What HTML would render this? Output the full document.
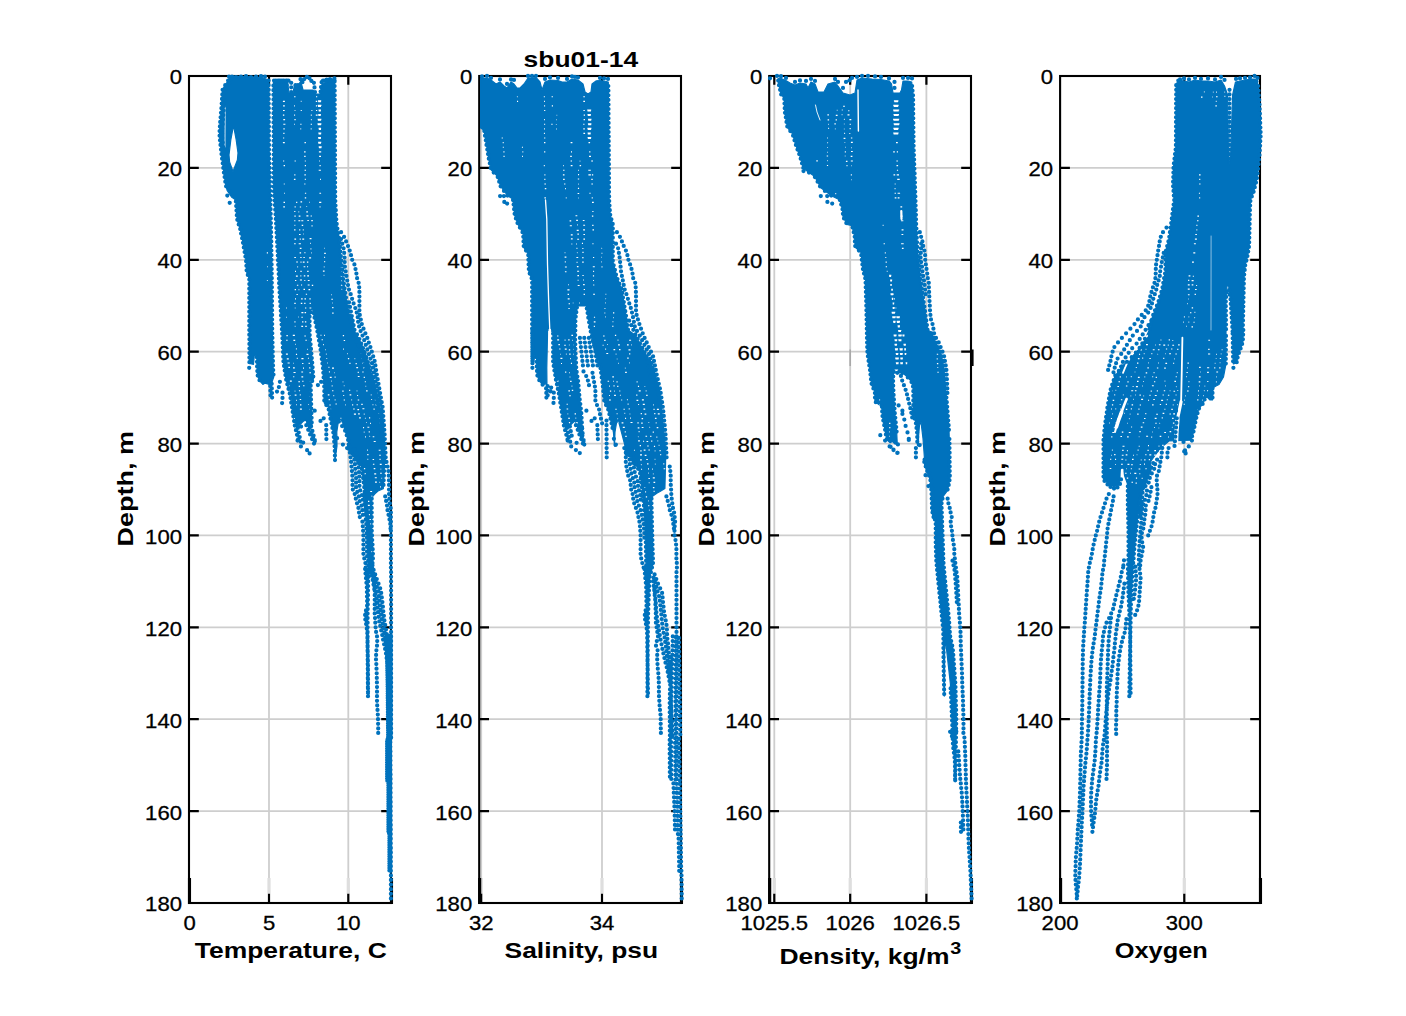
<!DOCTYPE html>
<html><head><meta charset="utf-8"><title>sbu01-14</title>
<style>
html,body{margin:0;padding:0;background:#fff}
svg{display:block}
text{font-family:"Liberation Sans",sans-serif;fill:#000}
.t{font-size:20.8px;stroke:#000;stroke-width:.3px}
.b{font-size:22px;font-weight:bold}
.d{fill:none;stroke:#0072bd;stroke-width:4.25;stroke-linecap:round}
.w{fill:none;stroke:#fff;stroke-width:1.3;stroke-linecap:round}
.wd{fill:none;stroke:#fff;stroke-width:1.15}
.f{fill:#0072bd;stroke:#0072bd;stroke-width:1.2;stroke-linejoin:round}
</style></head>
<body>

<svg width="1406" height="1016" viewBox="0 0 1406 1016">
<rect width="1406" height="1016" fill="#fff"/>
<!-- panel 1 -->
<path d="M269.0 76.0V903.0" stroke="#cecece" stroke-width="1.8"/>
<path d="M269.0 878V894" stroke="#dedede" stroke-width="3.2"/>
<path d="M348.3 76.0V903.0" stroke="#cecece" stroke-width="1.8"/>
<path d="M348.3 878V894" stroke="#dedede" stroke-width="3.2"/>
<path d="M189.0 167.9H391.0" stroke="#cecece" stroke-width="1.8"/>
<path d="M189.0 259.8H391.0" stroke="#cecece" stroke-width="1.8"/>
<path d="M189.0 351.7H391.0" stroke="#cecece" stroke-width="1.8"/>
<path d="M189.0 443.6H391.0" stroke="#cecece" stroke-width="1.8"/>
<path d="M189.0 535.4H391.0" stroke="#cecece" stroke-width="1.8"/>
<path d="M189.0 627.3H391.0" stroke="#cecece" stroke-width="1.8"/>
<path d="M189.0 719.2H391.0" stroke="#cecece" stroke-width="1.8"/>
<path d="M189.0 811.1H391.0" stroke="#cecece" stroke-width="1.8"/>
<path d="M189.0 167.9h9.8M391.0 167.9h-9.8M189.0 259.8h9.8M391.0 259.8h-9.8M189.0 351.7h9.8M391.0 351.7h-9.8M189.0 443.6h9.8M391.0 443.6h-9.8M189.0 535.4h9.8M391.0 535.4h-9.8M189.0 627.3h9.8M391.0 627.3h-9.8M189.0 719.2h9.8M391.0 719.2h-9.8M189.0 811.1h9.8M391.0 811.1h-9.8M269.0 903.0v-9.2M269.0 76.0v8.7M348.3 903.0v-9.2M348.3 76.0v8.7" stroke="#000" stroke-width="2.2" fill="none"/>
<rect x="189.0" y="76.0" width="202.0" height="827.0" fill="none" stroke="#000" stroke-width="2.1"/>
<path d="M189.5 878V904.0M391.5 878V904.0" stroke="#000" stroke-width="3.1"/>
<path class="f" fill-rule="evenodd" d="M231.1 76.1L227.5 81.5L222.6 89.2L221.4 108.4L219.6 130.2L219.6 136.6L221.4 153.2L223.9 172.4L225.8 185.2L227.1 190.3L231.5 197.0L235.8 200.0L237.1 219.2L240.3 229.4L242.9 242.2L246.1 260.2L246.7 271.7L249.3 279.4L249.3 329.9L249.4 342.8L249.4 363.5L253.5 364.3L254.3 355.6L256.7 355.0L257.4 374.8L259.9 381.2L262.9 384.4L265.1 383.1L269.3 384.4L271.0 385.1L273.7 377.0L273.1 368.0L272.2 330.0L271.8 277.0L271.2 238.0L270.4 200.0L269.0 150.0L268.6 80.0L262.0 77.5L245.0 76.5ZM233.5 125.5L236.2 140.0L238.0 153.0L237.4 160.0L233.0 171.5L229.6 162.0L229.0 155.0L230.8 140.0Z"/>
<path class="f" fill-rule="evenodd" d="M273.4 82.0L273.8 190.0L275.6 215.0L277.6 251.0L279.4 290.0L282.0 330.0L283.4 362.0L285.9 378.6L289.8 394.0L292.3 409.4L294.9 426.0L297.5 427.0L300.0 424.5L303.0 421.5L305.5 420.0L308.0 424.0L310.0 429.0L311.8 426.0L311.1 401.7L310.7 384.0L313.5 378.6L311.6 355.6L309.6 334.0L309.6 316.0L311.0 309.0L312.8 310.0L317.2 330.0L320.5 349.2L323.0 368.4L324.3 387.6L324.3 403.0L328.2 406.8L330.7 419.6L333.3 432.4L334.6 445.2L335.0 460.0L337.0 446.0L336.8 432.0L338.5 421.0L341.0 419.0L344.9 430.0L347.9 438.8L349.9 453.0L355.0 458.0L361.4 465.6L364.0 484.8L365.3 504.0L366.6 529.6L367.9 555.2L368.6 570.0L365.1 568.9L366.8 586.6L367.2 609.0L365.1 611.4L365.1 618.5L367.2 630.9L368.0 666.3L368.0 696.0L368.0 696.0L367.6 648.6L367.6 613.2L368.3 577.7L372.8 562.0L373.0 555.2L371.7 529.6L371.7 497.6L374.9 493.8L378.0 491.0L383.3 488.6L384.5 462.0L384.5 445.0L383.0 440.0L381.3 432.4L378.1 406.8L373.6 387.6L369.1 368.4L362.8 349.2L352.2 330.0L346.7 302.4L342.9 276.8L339.0 238.4L336.5 223.0L335.2 200.0L334.6 80.5L334.4 80.5L326.7 81.8L322.0 84.0L320.0 94.0L315.5 94.0L313.0 90.0L303.0 90.0L302.0 86.0L300.5 81.5L299.0 84.0L294.5 84.5L293.0 93.0L289.0 93.0L287.6 82.0Z"/>
<path class="f" fill-rule="evenodd" d="M386.2 634.4L386.9 652.1L387.6 684.0L388.1 737.2L387.1 740.6L387.1 780.5L388.4 783.2L388.4 831.9L389.4 834.5L389.4 871.7L391.6 871.7L391.4 740.6L391.9 737.2L391.9 634.4Z"/>
<path d="M225.2 106.0L225.0 147.0" fill="none" stroke="#fff" stroke-width="0.8" stroke-linecap="round"/>
<path class="wd" d="M266.8 252.9h1.2M267.1 266.7h0.7M266.9 280.5h0.8M282.9 101.3h2.0M283.1 105.9h1.7M283.0 110.5h1.7M282.9 115.1h1.4M283.3 119.6h1.8M283.3 124.2h2.1M283.4 128.8h1.3M283.3 133.4h1.2M283.1 138.0h1.1M282.9 142.6h1.9M283.1 161.0h1.1M283.6 165.6h1.4M283.8 184.0h0.9M284.2 193.2h0.8M283.5 202.3h1.5M283.3 206.9h1.6M294.1 96.7h1.4M294.1 105.9h0.8M294.6 110.5h0.8M294.1 115.1h1.0M294.4 119.6h1.3M294.2 124.2h0.8M294.6 161.0h1.2M294.3 174.8h1.1M293.9 179.4h1.6M294.6 206.9h1.1M294.2 211.5h1.2M294.4 216.1h1.3M294.2 220.7h1.2M294.5 225.3h0.8M294.1 229.9h1.4M294.4 239.1h1.7M294.1 243.7h1.6M294.3 257.5h1.6M295.0 271.3h1.0M295.0 280.5h1.3M294.7 289.6h1.3M295.0 298.8h1.0M294.3 303.4h1.4M294.8 308.0h0.7M294.4 321.8h1.1M294.8 326.4h0.6M304.5 142.6h1.4M304.1 151.8h1.5M304.2 156.4h1.4M304.8 161.0h1.0M304.8 165.6h1.2M304.6 170.2h1.4M304.4 174.8h1.4M304.8 179.4h1.0M304.3 184.0h1.1M304.9 193.2h1.3M304.8 197.8h1.4M300.8 101.3h0.7M300.7 110.5h1.1M300.3 124.2h1.2M300.4 128.8h0.8M318.0 100.8h3.2M318.2 101.7h2.7M317.8 105.4h3.6M318.0 106.3h3.0M318.5 110.0h2.5M318.7 110.9h2.1M318.2 114.6h2.7M318.4 115.5h2.3M317.6 119.2h3.8M317.9 120.1h3.2M317.5 123.8h3.9M317.8 124.7h3.3M318.6 128.4h2.5M318.8 129.3h2.2M318.3 133.0h3.0M318.6 133.9h2.5M318.1 137.6h2.9M318.4 138.5h2.5M318.1 142.2h3.2M318.3 143.1h2.7M318.7 146.8h3.0M318.9 147.7h2.5M318.9 151.8h2.3M319.1 156.4h1.9M319.2 161.0h0.8M319.5 165.6h1.2M318.7 170.2h2.2M320.0 179.4h0.9M319.4 193.2h1.7M319.1 202.3h2.2M319.6 206.9h0.9M316.0 96.7h1.2M315.8 101.3h1.4M315.9 105.9h1.2M316.0 110.5h1.2M315.8 115.1h1.8M311.4 110.5h1.0M310.8 115.1h1.0M310.9 119.6h0.8M310.7 124.2h1.3M310.7 128.8h0.9M271.3 105.9h1.9M271.2 110.5h1.9M271.5 115.1h1.2M271.8 119.6h1.1M271.6 124.2h1.4M270.9 128.8h1.9M271.1 133.4h1.6M271.5 138.0h1.1M271.1 142.6h1.1M271.5 147.2h1.3M298.7 216.1h1.7M298.4 220.7h1.9M299.2 229.9h1.1M299.0 234.5h1.6M299.7 239.1h1.1M298.7 243.7h2.2M299.8 248.3h1.7M299.6 252.9h1.5M300.3 257.5h1.3M300.5 262.1h1.0M300.4 271.3h1.3M300.4 275.9h0.9M301.0 285.0h1.1M301.1 298.8h1.6M300.8 303.4h1.5M301.4 312.6h2.0M301.4 317.2h1.4M302.1 321.8h1.3M301.3 326.4h1.8M301.3 220.7h2.0M301.7 225.3h1.5M302.8 229.9h0.9M302.3 239.1h1.9M303.4 257.5h1.4M302.8 262.1h1.8M303.6 266.7h1.7M303.8 275.9h1.5M304.3 280.5h1.0M304.5 298.8h1.5M304.2 303.4h1.3M305.0 308.0h1.3M304.6 312.6h1.5M304.9 321.8h1.4M305.3 326.4h1.4M306.9 262.1h1.4M307.0 266.7h1.1M307.2 271.3h1.4M307.2 275.9h1.8M307.8 280.5h1.8M307.7 285.0h1.9M308.5 289.6h1.7M309.4 298.8h1.3M309.6 303.4h1.2M309.5 308.0h1.8M286.1 308.0h0.8M286.2 317.2h0.7M286.4 335.6h1.4M286.2 340.2h1.4M306.5 206.5h0.6M306.3 211.9h1.6M306.4 215.8h2.0M307.4 220.5h1.4M296.5 294.5h1.3M305.8 294.2h1.3M309.1 257.9h2.0M311.7 321.4h0.8M311.1 326.5h2.0M304.3 252.7h1.2M298.5 289.7h0.9M296.9 285.2h1.4M298.5 211.9h0.7M309.6 238.6h1.9M310.3 243.3h0.7M310.5 248.8h0.9M311.3 252.8h0.6M311.3 220.6h1.5M311.5 225.8h1.1M299.9 280.0h2.1M297.3 266.8h0.8M296.2 262.0h1.7M295.9 276.1h1.9M299.8 207.0h1.3M311.8 285.4h1.4M309.3 202.2h0.7M300.5 201.9h1.6M296.1 202.3h1.2M311.1 316.9h2.0M303.4 234.0h0.6M310.6 216.0h1.3M298.1 317.0h0.6M303.5 289.3h1.5M331.2 294.7h0.7M331.3 299.2h1.6M332.1 303.0h0.6M332.1 307.6h1.4M332.2 313.1h1.4M324.3 248.2h0.6M324.2 253.3h1.6M324.2 257.4h0.9M324.2 261.6h1.0M323.8 266.9h0.7M322.9 271.1h1.7M323.7 275.4h0.6M341.7 262.0h0.6M340.8 266.8h1.6M341.1 271.4h1.5M340.8 276.2h1.6M341.3 280.6h0.9M340.9 285.2h1.6M341.6 289.3h0.6M301.3 372.0h1.8M301.4 376.8h1.8M302.2 381.2h1.3M303.1 385.7h1.4M310.0 422.6h0.7M308.7 340.2h1.6M309.4 344.5h0.8M310.0 349.8h1.7M310.4 353.8h1.1M288.6 385.7h0.8M288.8 391.0h1.0M289.2 395.6h1.5M289.7 399.7h1.6M290.9 404.1h0.9M291.4 408.7h0.9M308.4 404.5h0.7M309.4 409.2h0.8M310.0 413.9h0.6M310.4 418.2h1.7M292.8 335.3h2.1M293.4 340.4h1.8M295.0 344.3h0.6M295.9 348.9h0.9M295.9 354.4h1.2M296.8 358.3h0.9M301.4 358.6h2.1M302.1 363.5h1.3M303.0 368.1h1.0M289.9 381.1h1.9M304.4 336.0h1.4M305.4 340.2h1.4M309.1 390.6h0.6M309.0 395.6h1.6M310.0 400.0h1.4M285.9 354.1h2.0M286.8 358.8h2.0M287.6 363.0h2.1M288.3 367.3h1.7M293.2 376.7h1.1M307.0 349.3h0.6M306.5 354.3h2.0M307.9 358.2h1.0M308.6 363.4h1.2M309.2 367.9h1.3M309.4 372.7h1.7M298.3 381.7h1.7M298.7 386.4h1.3M298.9 390.7h1.2M299.8 394.9h0.9M299.7 399.5h1.5M300.0 404.9h1.4M299.9 409.1h2.0M293.8 418.3h1.2M294.3 423.3h0.8M293.0 363.2h0.6M293.0 367.9h1.8M293.5 372.5h2.1M309.9 381.2h0.6M310.3 386.5h0.7M294.7 391.1h0.6M294.7 395.1h1.8M296.0 400.3h0.7M296.1 404.7h0.8M325.9 354.1h0.7M326.4 358.5h0.8M327.3 363.0h0.7M328.5 367.4h0.9M328.9 371.9h1.0M329.8 377.4h1.9M367.4 427.2h1.9M368.7 431.8h1.1M369.5 436.3h0.6M342.3 391.1h1.3M343.2 395.5h1.0M343.7 400.0h1.3M345.2 404.9h0.6M369.0 417.9h1.2M370.0 423.3h0.9M362.3 372.0h1.3M363.7 377.4h1.2M364.8 381.7h1.1M365.5 386.2h0.7M366.1 390.9h1.5M347.3 353.6h0.6M347.9 358.6h1.3M349.4 363.4h1.1M340.4 418.2h1.0M340.5 423.4h1.7M320.4 335.2h1.1M321.6 339.7h1.3M323.1 344.6h0.8M331.0 381.1h0.6M331.7 385.8h0.9M332.1 390.7h1.3M333.4 395.6h0.8M334.7 399.8h0.8M335.5 404.0h1.3M327.8 394.8h1.6M328.7 399.6h1.1M329.4 405.0h1.3M330.5 409.0h0.6M342.8 335.6h1.3M343.7 340.5h1.4M370.8 394.9h0.7M371.2 399.5h0.9M372.5 404.7h0.9M373.5 409.1h1.2M357.8 345.1h2.0M359.8 349.7h0.8M360.8 353.6h0.8M361.6 358.7h0.9M362.4 363.2h2.0M363.4 367.9h1.3M343.1 349.1h0.8M363.0 427.6h1.1M363.8 432.1h0.7M365.0 436.9h0.9M372.7 436.7h1.6M373.7 441.5h2.0M354.6 358.6h0.6M355.6 363.6h1.2M356.3 367.6h1.8M357.7 372.4h1.1M357.8 376.5h1.8M342.7 381.8h0.6M343.8 385.7h0.7M361.3 404.4h1.4M362.4 408.7h2.0M363.8 414.1h0.8M364.9 418.2h0.8M366.4 422.5h0.6M349.2 390.4h1.0M349.6 394.9h1.7M351.4 399.8h0.7M352.1 404.8h1.1M353.2 409.0h1.5M353.9 414.1h2.1M332.0 368.1h2.0M334.0 372.7h0.6M334.6 377.1h1.0M355.5 335.4h1.9M357.2 339.7h0.7M324.1 335.4h0.9M325.2 349.7h0.7M356.7 390.8h0.6M357.1 395.5h1.0M357.7 400.0h1.5M378.6 413.3h1.0M379.2 418.5h1.3M379.7 423.1h1.8M380.9 427.7h0.6M374.9 399.9h2.1M375.6 404.8h1.7M356.6 404.7h1.2M357.4 409.6h1.7M358.1 413.9h1.7M359.1 417.9h1.7M368.0 501.3h1.3M367.8 505.4h2.0M368.7 509.8h0.8M368.9 514.6h1.0M369.4 519.5h1.6M370.0 523.9h1.2M363.4 487.5h2.0M364.6 491.8h1.0M364.4 496.2h1.2M372.6 459.5h1.5M372.9 464.2h1.5M373.7 468.6h1.6M374.2 473.9h2.0M374.8 477.7h2.0M375.0 482.1h1.9M367.1 450.1h0.8M367.2 454.6h1.3M367.5 459.3h0.7M379.5 482.3h0.6M380.0 486.8h0.9M357.7 463.9h2.1M357.8 469.2h1.7M358.5 473.2h1.5M371.2 551.8h1.1M379.8 464.4h1.9M380.6 469.1h0.6M380.1 473.2h1.7M381.4 478.2h0.8M363.6 468.6h1.6M364.3 473.6h1.4M370.2 491.5h1.9M371.2 496.2h1.2M378.7 450.2h1.9M379.2 455.2h1.6M379.5 459.3h1.1"/>
<path class="d" d="M228.1 80.6h0m-2.9 4.6h0m-2.6 4.6h0m-.3 4.6h0m-.3 4.6h0m-.3 4.6h0m-.3 4.6h0m-.4 4.6h0m-.4 4.5h0m-.4 4.6h0m-.3 4.6h0m-.3 4.6h0m0 4.6h0m.4 4.6h0m.5 4.6h0m.5 4.6h0m.5 4.6h0m.6 4.6h0m.6 4.6h0m.6 4.6h0m.6 4.6h0m.7 4.6h0m.7 4.6h0m.8 4.6h0m6.1-108h0m-3.1 4.6h0m-2.9 4.6h0m-1.3 4.6h0m-.3 4.6h0m-.3 4.6h0m-.3 4.6h0m-.3 4.6h0m-.4 4.6h0m-.4 4.5h0m-.3 4.6h0m-.4 4.6h0m-.1 4.6h0m.1 4.6h0m.5 4.6h0m.5 4.6h0m.5 4.6h0m.6 4.6h0m.6 4.6h0m.6 4.6h0m.6 4.6h0m.7 4.6h0m.7 4.6h0m.7 4.6h0m1 4.6h0m-1.9 6.9h0m2.4 7.3h0m6.2-1.4h0m.3 4.6h0m.3 4.6h0m.3 4.6h0m.5 4.6h0m1.4 4.6h0m1.5 4.6h0m.9 4.6h0m1 4.6h0m.9 4.6h0m.8 4.6h0m.8 4.6h0m.8 4.6h0m.7 4.6h0m.3 4.6h0m.2 4.5h0m1.2 4.6h0m1.5 4.6h0m0 4.6h0m0 4.6h0m0 4.6h0m0 4.6h0m0 4.6h0m0 4.6h0m0 4.6h0m0 4.6h0m0 4.6h0m0 4.6h0m0 4.6h0m0 4.6h0m.1 4.6h0m0 4.6h0m0 4.6h0m0 4.5h0m0 4.6h0m0 4.6h0m19.2-281.6h0m0 4.6h0m.1 4.6h0m0 4.6h0m0 4.6h0m0 4.6h0m.1 4.6h0m0 4.6h0m0 4.5h0m0 4.6h0m.1 4.6h0m0 4.6h0m0 4.6h0m0 4.6h0m.1 4.6h0m0 4.6h0m.1 4.6h0m.1 4.6h0m.2 4.6h0m.1 4.6h0m.1 4.6h0m.2 4.6h0m.1 4.6h0m.1 4.6h0m.1 4.6h0m.2 4.6h0m.1 4.6h0m.1 4.5h0m.1 4.6h0m.1 4.6h0m.1 4.6h0m.1 4.6h0m.1 4.6h0m.1 4.6h0m.1 4.6h0m.1 4.6h0m0 4.6h0m.1 4.6h0m.1 4.6h0m0 4.6h0m.1 4.6h0m.1 4.6h0m0 4.6h0m.1 4.6h0m0 4.6h0m.1 4.5h0m0 4.6h0m0 4.6h0m.1 4.6h0m0 4.6h0m.1 4.6h0m0 4.6h0m0 4.6h0m.1 4.6h0m0 4.6h0m.1 4.6h0m.1 4.6h0m.1 4.6h0m.1 4.6h0m.1 4.6h0m.1 4.6h0m.1 4.6h0m.1 4.5h0m.2 4.6h0m.3 4.6h0m-24.3-6.8h0m22.5 16h0m.1 4.6h0m.2 4.6h0m.1 4.6h0m-2-16.1h0m.1 4.6h0m.2 4.6h0m.1 4.6h0m9.4-13.5h0m-1 5.2h0m-1.9 4.5h0m5.5 1.2h0m0 5.2h0m-.4 5.1h0m-25.3-45.8h0m.2 4.6h0m.1 4.6h0m.2 4.6h0m.4 4.6h0m1.8 4.6h0m-30.5-303.6h0m3 0h0m4 .4h0m5-.4h0m5-.4h0m5 .8h0m5-.4h0m5-.4h0m4 .4h0m8.4 9h0m0 4.6h0m0 4.6h0m.1 4.6h0m0 4.6h0m0 4.6h0m0 4.6h0m0 4.6h0m0 4.6h0m.1 4.6h0m0 4.6h0m0 4.6h0m0 4.6h0m0 4.6h0m.1 4.6h0m0 4.6h0m0 4.6h0m0 4.6h0m0 4.5h0m0 4.6h0m.1 4.6h0m0 4.6h0m0 4.6h0m.1 4.6h0m.3 4.6h0m.4 4.6h0m.3 4.6h0m.3 4.6h0m.3 4.6h0m.3 4.6h0m.3 4.6h0m.2 4.6h0m.3 4.6h0m.2 4.6h0m.3 4.6h0m.2 4.6h0m.3 4.5h0m.2 4.6h0m.2 4.6h0m.2 4.6h0m.3 4.6h0m.2 4.6h0m.2 4.6h0m.2 4.6h0m.2 4.6h0m.3 4.6h0m.3 4.6h0m.3 4.6h0m.3 4.6h0m.3 4.6h0m.2 4.6h0m.3 4.6h0m.3 4.6h0m.3 4.6h0m.3 4.5h0m.2 4.6h0m.2 4.6h0m.2 4.6h0m.2 4.6h0m.2 4.6h0m.2 4.6h0m.6 4.6h0m.7 4.6h0m.7 4.6h0m.8 4.6h0m1.1 4.6h0m1.2 4.6h0m1.2 4.6h0m.8 4.6h0m.7 4.6h0m.8 4.6h0m.7 4.6h0m.7 4.5h0m.7 4.6h0m.7 4.6h0m1.1 4.6h0m1.1 4.6h0m1.1 4.6h0m-.3-11.5h0m.9 4.6h0m1 4.6h0m.9 4.6h0m.5-15.1h0m5.2-1.4h0m1.9 4.6h0m1.9 4.6h0m1.9 4.6h0m2 4.6h0m-5.8-20.7h0m1.6 4.6h0m1.7 4.6h0m1.7 4.6h0m1.6 4.6h0m-3.7-15h0m1.3 4.6h0m1.2 4.6h0m1.2 4.6h0m19.8-358.6h0m0 4.6h0m.1 4.6h0m0 4.6h0m0 4.6h0m0 4.6h0m0 4.6h0m.1 4.6h0m0 4.6h0m0 4.6h0m0 4.6h0m.1 4.6h0m0 4.5h0m0 4.6h0m0 4.6h0m.1 4.6h0m0 4.6h0m0 4.6h0m0 4.6h0m0 4.6h0m.1 4.6h0m0 4.6h0m0 4.6h0m0 4.6h0m.1 4.6h0m0 4.6h0m.1 4.6h0m.2 4.6h0m.3 4.6h0m.2 4.6h0m.3 4.5h0m.4 4.6h0m.7 4.6h0m.7 4.6h0m.8 4.6h0m.5 4.6h0m.5 4.6h0m.4 4.6h0m.5 4.6h0m.5 4.6h0m.4 4.6h0m.5 4.6h0m.5 4.6h0m.5 4.6h0m.7 4.6h0m.7 4.6h0m.7 4.6h0m.7 4.6h0m.6 4.5h0m.9 4.6h0m1 4.6h0m.9 4.6h0m.9 4.6h0m.9 4.6h0m.9 4.6h0m-41.7-17.4h0m-.8 4.5h0m0 4.6h0m0 4.6h0m0 4.6h0m.1 4.6h0m.4 4.6h0m.5 4.6h0m.4 4.6h0m.4 4.6h0m.4 4.6h0m.4 4.6h0m.4 4.6h0m.3 4.6h0m.4 4.6h0m-1.1 4.6h0m-1.5 4.6h0m.1 4.6h0m.1 4.6h0m.1 4.5h0m.2 4.6h0m.1 4.6h0m.1 4.6h0m.2 4.6h0m.1 4.6h0m1.8-109.3h0m1 4.6h0m1 4.6h0m1 4.6h0m.9 4.6h0m.8 4.5h0m.8 4.6h0m.8 4.6h0m.8 4.6h0m.6 4.6h0m.6 4.6h0m.6 4.6h0m.6 4.6h0m.3 4.6h0m.3 4.6h0m.3 4.6h0m.3 4.6h0m.1 4.6h0m0 4.6h0m0 4.6h0m2 4.6h0m2.4 4.6h0m.9 4.6h0m.9 4.5h0m1 4.6h0m.9 4.6h0m.9 4.6h0m.5 4.6h0m.4 4.6h0m.4 4.6h0m.2 4.6h0m.1 4.6h0m.1 4.6h0m30.1 108.9h0m.4 4.6h0m.5 4.6h0m.4 4.6h0m.4 4.6h0m.1 4.6h0m.1 4.6h0m.1 4.5h0m0 4.6h0m-1.1 4.6h0m-.9 4.6h0m.2 4.6h0m.8 4.6h0m.7 4.6h0m.5 4.6h0m.1 4.6h0m.1 4.6h0m.1 4.6h0m.1 4.6h0m.1 4.6h0m.1 4.6h0m.1 4.6h0m0 4.6h0m0 4.6h0m0 4.6h0m0 4.5h0m0 4.6h0m0 4.6h0m3.7-194.3h0m0 4.6h0m0 4.6h0m0 4.6h0m0 4.6h0m0 4.6h0m0 4.6h0m.1 4.5h0m.2 4.6h0m.2 4.6h0m.3 4.6h0m.2 4.6h0m.2 4.6h0m0 4.6h0m-.4 4.6h0m-1.3 4.6h0m-1.3 4.6h0m-1.3 4.6h0m-.4 4.6h0m-.1 4.6h0m-.1 4.6h0m0 4.6h0m-.1 4.6h0m-.1 4.6h0m-.1 4.6h0m-.1 4.5h0m0 4.6h0m0 4.6h0m0 4.6h0m0 4.6h0m0 4.6h0m0 4.6h0m0 4.6h0m0 4.6h0m.1 4.6h0m0 4.6h0m0 4.6h0m.1 4.6h0m0 4.6h0m0 4.6h0m.1 4.6h0m0 4.6h0m.1 4.6h0m0 4.5h0m-14-362.9h0m2.6 4.6h0m2.5 4.6h0m2.5 4.6h0m2 4.6h0m1.5 4.6h0m1.5 4.6h0m1.5 4.5h0m1.4 4.6h0m1.1 4.6h0m1 4.6h0m1.1 4.6h0m1.1 4.6h0m1.1 4.6h0m1 4.6h0m1.1 4.6h0m1.1 4.6h0m.6 4.6h0m.5 4.6h0m.6 4.6h0m.6 4.6h0m.6 4.6h0m.7 4.6h0m1.1 4.6h0m1.3 4.6h0m.4 4.5h0m0 4.6h0m0 4.6h0m0 4.6h0m-.2 4.6h0m-.2 4.6h0m-.2 4.6h0m-.2 4.6h0m-.2 4.6h0m-27.1-25.3h0m3.8 4.6h0m1.6 4.6h0m.7 4.6h0m.6 4.6h0m.6 4.6h0m.5 4.6h0m.3 4.6h0m.3 4.6h0m.3 4.6h0m.3 4.6h0m.2 4.6h0m.2 4.6h0m.3 4.6h0m.2 4.6h0m.2 4.6h0m.3 4.5h0m.2 4.6h0m.2 4.6h0m.3 4.6h0m.2 4.6h0m.2 4.6h0m.3 4.6h0m.2 4.6h0m.2 4.6h0m-29.7-148.4h0m3.2 4.6h0m3 4.6h0m1.6 4.6h0m1.4 4.6h0m.6 4.6h0m.6 4.6h0m-75.3-368.5h0m3 0h0m3 0h0m3 0h0m3 0h0m2.5 0h0m34.5 0h0m3 0h0m3 0h0m3 0h0m2.6 0h0m-59.1 0h0m0 4.6h0m2.8-4.6h0m0 4.6h0m2.8-4.6h0m0 4.6h0m2.8-4.6h0m0 4.6h0m2.8-4.6h0m0 4.6h0m4.5-2.4h0m0 4.5h0m0 4.7h0m4.3-6.8h0m0 4.6h0m2.5-4.6h0m0 4.6h0m2.5-10.6h0m1.9 3h0m1.9-3.2h0m2.6-2.1h0m2.6 1.4h0m1.9 2.6h0m2.5 1.9h0m.6 4.6h0m.5 4.6h0m6.6-9.8h0m2.4-1.7h0m2.7-.9h0m3.3-.6h0m4.4-.7h0m-13.4 8.7h0m-.4 4.5h0m20.5 140.7h0m3 4.6h0m2 4.6h0m1.9 4.6h0m1.7 4.6h0m1.3 4.6h0m1.2 4.6h0m2.2 4.6h0m1.1 4.6h0m.9 4.6h0m.7 4.6h0m1.5 4.6h0m.6 4.5h0m.2 4.6h0m0 4.6h0m0 4.6h0m0 4.6h0m0 4.6h0m.4 4.6h0m1 4.6h0m1 4.6h0m1.7 4.6h0m1.9 4.6h0m1.9 4.6h0m1.5 4.6h0m1.6 4.6h0m1.4 4.6h0m1.4 4.6h0m1.4 4.6h0m.8 4.5h0m.7 4.6h0m.7 4.6h0m.9 4.6h0m.8 4.6h0m.8 4.6h0m.8 4.6h0m.8 4.6h0m.8 4.6h0m.9 4.6h0m.3 4.6h0m.4 4.6h0m.3 4.6h0m.4 4.6h0m.3 4.6h0m.3 4.6h0m.2 4.6h0m.2 4.6h0m.2 4.5h0m.3 4.6h0m.2 4.6h0m-44.7-218.2h0m1.3 4.6h0m1.3 4.6h0m.6 4.6h0m.4 4.6h0m.1 4.6h0m.2 4.6h0m.8 4.6h0m.7 4.6h0m.8 4.6h0m.8 4.5h0m1 4.6h0m1.7 4.6h0m1.4 4.6h0m1.5 4.6h0m1.7 4.6h0m1.4 4.6h0m1 4.6h0m.4 4.6h0m1 4.6h0m1.5 4.6h0m1.9 4.6h0m1.7 4.6h0m1.6 4.6h0m1.5 4.6h0m1.6 4.6h0m1.6 4.6h0m1.4 4.6h0m1 4.5h0m.9 4.6h0m.9 4.6h0m.8 4.6h0m.9 4.6h0m1 4.6h0m1.1 4.6h0m.9 4.6h0m.8 4.6h0m.6 4.6h0m.4 4.6h0m.3 4.6h0m.4 4.6h0m.3 4.6h0m.4 4.6h0m.2 4.6h0m.2 4.6h0m.2 4.6h0m.2 4.5h0m.2 4.6h0m.3 4.6h0m-34.8-157.3h0m.9 4.6h0m.9 4.6h0m.9 4.6h0m.9 4.6h0m.9 4.5h0m.9 4.6h0m2.5 4.6h0m2.4 4.6h0m1.8 4.6h0m1.8 4.6h0m1.7 4.6h0m1.6 4.6h0m1.6 4.6h0m1.1 4.6h0m1.2 4.6h0m1.1 4.6h0m1.2 4.6h0m1.1 4.6h0m1.1 4.6h0m1.2 4.6h0m1 4.6h0m.9 4.6h0m-26.7-85h0m.7 4.6h0m.8 4.5h0m1 4.6h0m1.2 4.6h0m1.7 4.6h0m1.8 4.6h0m1.7 4.6h0m1.6 4.6h0m1.6 4.6h0m1.5 4.6h0m1.4 4.6h0m1.4 4.6h0m1.3 4.6h0m1.3 4.6h0m-23 65.4h0m2.8 4.6h0m.6 4.6h0m.6 4.6h0m.4 4.6h0m.4 4.6h0m.4 4.6h0m.2 4.6h0m0 4.6h0m.3 4.6h0m1.9 4.6h0m1.1 4.6h0m1.2 4.6h0m1.4 4.6h0m.6 4.6h0m.8 4.6h0m2.6 4.6h0m.4 4.6h0m.3 4.5h0m.3 4.6h0m0 4.6h0m0 4.6h0m0 4.6h0m0 4.6h0m.9 4.6h0m1.1 4.6h0m.3 4.6h0m-16.5-121.7h0m2.9 4.5h0m1.7 4.6h0m.6 4.6h0m.5 4.6h0m.4 4.6h0m.4 4.6h0m.4 4.6h0m0 4.6h0m0 4.6h0m1.2 4.6h0m1.6 4.6h0m.9 4.6h0m1.7 4.6h0m.8 4.6h0m.6 4.6h0m2.8 4.6h0m.6 4.6h0m.3 4.6h0m.3 4.5h0m.1 4.6h0m0 4.6h0m0 4.6h0m0 4.6h0m.2 4.6h0m1.4 4.6h0m.6 4.6h0m.3 4.6h0m-14.9-120.8h0m2.4 4.6h0m.6 4.6h0m.6 4.6h0m.4 4.5h0m.4 4.6h0m.3 4.6h0m.2 4.6h0m0 4.6h0m.7 4.6h0m1.8 4.6h0m1 4.6h0m1.4 4.6h0m1.1 4.6h0m.6 4.6h0m1.6 4.6h0m-70.2-77.4h0m5.7 2h0m-2.3 3.8h0m6.2 3.8h0m2.5 3.2h0m8.3-68.3h0m3.2-3.3h0m-.6 39.1h0m3.2-2.6h0m-9-7.6h0m22.4 27.5h0m5.8 6.4h0m-16.7-19.4h0m.1 4.6h0m0 4.6h0m.1 4.6h0m60.1 22.9h0m1.1 4.6h0m.8 4.6h0m.3 4.6h0m.2 4.6h0m.1 4.6h0m0 4.6h0m0 4.6h0m.4 4.6h0m.5 4.6h0m.8 4.6h0m.2 4.6h0m0 4.6h0m0 4.6h0m0 4.6h0m0 4.5h0m0 4.6h0m0 4.6h0m0 4.6h0m0 4.6h0m0 4.6h0m0 4.6h0m0 4.6h0m0 4.6h0m.2 4.6h0m0 4.6h0m0 4.6h0m0 4.6h0m0 4.6h0m0 4.6h0m0 4.6h0m0 4.6h0m0 4.6h0m0 4.5h0m0 4.6h0m0 4.6h0m0 4.6h0m0 4.6h0m0 4.6h0m0 4.6h0m0 4.6h0m0 4.6h0m0 4.6h0m0 4.6h0m0 4.6h0m0 4.6h0m0 4.6h0m0 4.6h0m0 4.6h0m0 4.6h0m0 4.6h0m0 4.5h0m0 4.6h0m0 4.6h0m0 4.6h0m0 4.6h0m0 4.6h0m0 4.6h0m0 4.6h0m0 4.6h0m0 4.6h0m-.8 4.6h0m0 4.6h0m.1 4.6h0m0 4.6h0m0 4.6h0m0 4.6h0m0 4.6h0m.1 4.6h0m0 4.5h0m0 4.6h0m0 4.6h0m0 4.6h0m0 4.6h0m.1 4.6h0m0 4.6h0m0 4.6h0m0 4.6h0m0 4.6h0m.1 4.6h0m0 4.6h0m0 4.6h0m0 4.6h0m0 4.6h0m.1 4.6h0m0 4.6h0m0 4.6h0m0 4.5h0m0 4.6h0m0 4.6h0m.1 4.6h0m0 4.6h0m0 4.6h0m0 4.6h0m0 4.6h0m0 4.6h0m-5.7-402h0m.9 4.6h0m.9 4.6h0m.5 4.6h0m1 4.6h0m1 4.6h0m.8 4.6h0m.2 4.6h0m-19 34.4h0m.6 4.6h0m.6 4.6h0m.5 4.6h0m.6 4.6h0m.6 4.6h0m.3 4.6h0m0 4.6h0m0 4.6h0m0 4.6h0m0 4.6h0m0 4.5h0m.3 4.6h0m.3 4.6h0m.3 4.6h0m.5 4.6h0m.9 4.6h0m.2 4.6h0m-.2 4.6h0m-.6 4.6h0m-.3 4.6h0m-.1 4.6h0m.3 4.6h0m.2 4.6h0m.2 4.6h0m.1 4.6h0m.1 4.6h0m.1 4.6h0m0 4.6h0m0 4.5h0m0 4.6h0m.2 4.6h0m.3 4.6h0m.3 4.6h0m.2 4.6h0m.1 4.6h0m.1 4.6h0m0 4.6h0m-6.9-172.3h0m1.2 4.6h0m1.1 4.6h0m1.6 4.6h0m1.6 4.6h0m1.7 4.6h0m1.7 4.6h0m1 4.6h0m.6 4.6h0m.6 4.6h0m.5 4.6h0m.4 4.6h0m.6 4.5h0m.5 4.6h0m.8 4.6h0m.8 4.6h0m.7 4.6h0m.8 4.6h0m.5 4.6h0m.4 4.6h0m.5 4.6h0m.3 4.6h0m.2 4.6h0m.3 4.6h0m-18.7-102.5h0m.9 4.6h0m1.2 4.6h0m1.3 4.6h0m1.3 4.6h0m1.2 4.6h0m1.2 4.6h0m.7 4.6h0m.6 4.6h0m.6 4.6h0m.6 4.6h0m.6 4.6h0m.7 4.6h0m.9 4.6h0m.9 4.6h0m.7 4.5h0m.8 4.6h0m.8 4.6h0m.7 4.6h0m.7 4.6h0m.5 4.6h0m-17.3-89.6h0m.6 4.6h0m.7 4.6h0m.8 4.6h0m.8 4.6h0m.8 4.6h0m1 4.6h0m1 4.6h0m.6 4.6h0m.5 4.6h0m.6 4.6h0m.6 4.6h0m.7 4.6h0m.9 4.6h0m1 4.5h0m1 4.6h0m.9 4.6h0m1 4.6h0m1 4.6h0m.9 4.6h0m.6 4.6h0m.6 4.6h0m.4 4.6h0m.2 4.6h0m.2 4.6h0m.2 4.6h0m-1.9-42.7h0m.2 4.6h0m.2 4.5h0m.2 4.6h0m.1 4.6h0m.1 4.6h0m.1 4.6h0m.1 4.6h0m.1 4.6h0m.1 4.6h0m.1 4.6h0m.1 4.6h0m0 4.6h0m0 4.6h0m.1 4.6h0m0 4.6h0m.1 4.6h0m0 4.6h0m.1 4.6h0m0 4.6h0m.1 4.5h0m0 4.6h0m-.6 4.6h0m-.4 4.6h0m0 4.6h0m0 4.6h0m0 4.6h0m0 4.6h0m0 4.6h0m0 4.6h0m0 4.6h0m.2 4.6h0m1.1 4.6h0m0 4.6h0m0 4.6h0m0 4.6h0m0 4.6h0m0 4.6h0m0 4.5h0m0 4.6h0m0 4.6h0m0 4.6h0m0 4.6h0m1 4.6h0m0 4.6h0m0 4.6h0m0 4.6h0m0 4.6h0m0 4.6h0m0 4.6h0m0 4.6h0m-3.1-232h0m.1 4.6h0m.2 4.6h0m.2 4.5h0m.1 4.6h0m.1 4.6h0m.2 4.6h0m.1 4.6h0m.1 4.6h0m.1 4.6h0m.1 4.6h0m0 4.6h0m.1 4.6h0m0 4.6h0m.1 4.6h0m0 4.6h0m.1 4.6h0m0 4.6h0m.1 4.6h0m0 4.6h0m0 4.6h0m.1 4.5h0m0 4.6h0m-1 4.6h0m0 4.6h0m0 4.6h0m0 4.6h0m0 4.6h0m0 4.6h0m0 4.6h0m0 4.6h0m0 4.6h0m1.2 4.6h0m.1 4.6h0m0 4.6h0m0 4.6h0m0 4.6h0m0 4.6h0m0 4.6h0m0 4.5h0m0 4.6h0m0 4.6h0m0 4.6h0m.7 4.6h0m.3 4.6h0m0 4.6h0m0 4.6h0m0 4.6h0m0 4.6h0m0 4.6h0m0 4.6h0m0 4.6h0"/>
<text x="169.7" y="84.4" textLength="12.3" lengthAdjust="spacingAndGlyphs" class="t">0</text>
<text x="157.4" y="176.3" textLength="24.6" lengthAdjust="spacingAndGlyphs" class="t">20</text>
<text x="157.4" y="268.2" textLength="24.6" lengthAdjust="spacingAndGlyphs" class="t">40</text>
<text x="157.4" y="360.1" textLength="24.6" lengthAdjust="spacingAndGlyphs" class="t">60</text>
<text x="157.4" y="452.0" textLength="24.6" lengthAdjust="spacingAndGlyphs" class="t">80</text>
<text x="145.1" y="543.8" textLength="36.9" lengthAdjust="spacingAndGlyphs" class="t">100</text>
<text x="145.1" y="635.7" textLength="36.9" lengthAdjust="spacingAndGlyphs" class="t">120</text>
<text x="145.1" y="727.6" textLength="36.9" lengthAdjust="spacingAndGlyphs" class="t">140</text>
<text x="145.1" y="819.5" textLength="36.9" lengthAdjust="spacingAndGlyphs" class="t">160</text>
<text x="145.1" y="911.4" textLength="36.9" lengthAdjust="spacingAndGlyphs" class="t">180</text>
<text x="183.5" y="930.3" textLength="12.3" lengthAdjust="spacingAndGlyphs" class="t">0</text>
<text x="262.9" y="930.3" textLength="12.3" lengthAdjust="spacingAndGlyphs" class="t">5</text>
<text x="336.0" y="930.3" textLength="24.6" lengthAdjust="spacingAndGlyphs" class="t">10</text>
<text transform="translate(133.4 546.6) rotate(-90)" textLength="115.5" lengthAdjust="spacingAndGlyphs" class="b">Depth, m</text>
<text x="194.8" y="958.2" textLength="192" lengthAdjust="spacingAndGlyphs" class="b">Temperature, C</text>
<!-- panel 2 -->
<path d="M481.2 76.0V903.0" stroke="#cecece" stroke-width="1.8"/>
<path d="M481.2 878V894" stroke="#dedede" stroke-width="3.2"/>
<path d="M602.0 76.0V903.0" stroke="#cecece" stroke-width="1.8"/>
<path d="M602.0 878V894" stroke="#dedede" stroke-width="3.2"/>
<path d="M479.2 167.9H681.0" stroke="#cecece" stroke-width="1.8"/>
<path d="M479.2 259.8H681.0" stroke="#cecece" stroke-width="1.8"/>
<path d="M479.2 351.7H681.0" stroke="#cecece" stroke-width="1.8"/>
<path d="M479.2 443.6H681.0" stroke="#cecece" stroke-width="1.8"/>
<path d="M479.2 535.4H681.0" stroke="#cecece" stroke-width="1.8"/>
<path d="M479.2 627.3H681.0" stroke="#cecece" stroke-width="1.8"/>
<path d="M479.2 719.2H681.0" stroke="#cecece" stroke-width="1.8"/>
<path d="M479.2 811.1H681.0" stroke="#cecece" stroke-width="1.8"/>
<path d="M479.2 167.9h9.8M681.0 167.9h-9.8M479.2 259.8h9.8M681.0 259.8h-9.8M479.2 351.7h9.8M681.0 351.7h-9.8M479.2 443.6h9.8M681.0 443.6h-9.8M479.2 535.4h9.8M681.0 535.4h-9.8M479.2 627.3h9.8M681.0 627.3h-9.8M479.2 719.2h9.8M681.0 719.2h-9.8M479.2 811.1h9.8M681.0 811.1h-9.8M481.2 903.0v-9.2M481.2 76.0v8.7M602.0 903.0v-9.2M602.0 76.0v8.7" stroke="#000" stroke-width="2.2" fill="none"/>
<rect x="479.2" y="76.0" width="201.8" height="827.0" fill="none" stroke="#000" stroke-width="2.1"/>
<path d="M479.7 878V904.0M681.5 878V904.0" stroke="#000" stroke-width="3.1"/>
<path class="f" fill-rule="evenodd" d="M480.6 78.0L480.6 128.0L484.1 130.2L486.0 141.7L488.5 157.0L491.1 169.9L497.5 176.3L500.7 186.5L507.9 196.0L512.9 199.0L514.8 215.4L518.0 224.3L523.1 233.3L523.8 247.4L528.2 253.8L528.9 271.7L532.1 279.4L532.1 330.0L532.4 363.0L533.5 364.3L534.6 355.6L536.5 355.6L537.1 374.8L539.7 381.2L542.9 385.1L545.1 383.8L547.1 385.1L547.0 388.0L546.8 368.0L547.6 330.0L553.1 332.0L553.1 362.0L555.7 378.6L558.9 394.0L561.4 409.4L564.0 426.0L566.5 428.0L569.5 426.0L572.5 423.0L575.0 421.0L577.5 425.0L580.0 430.0L582.1 428.0L581.3 413.2L579.4 396.6L578.1 381.2L576.2 368.4L575.1 340.0L575.5 318.0L577.1 306.0L586.4 306.0L588.4 318.0L590.4 330.0L593.9 345.0L597.9 358.0L600.5 368.4L603.0 387.6L604.3 401.7L608.2 409.4L610.7 419.6L613.4 432.0L614.5 446.0L615.0 432.0L616.5 423.0L618.5 421.0L622.2 435.0L624.8 445.2L625.4 455.0L631.9 458.0L639.9 472.0L642.5 491.2L644.4 511.7L645.7 534.7L646.3 570.0L644.4 568.9L646.2 586.6L646.5 609.0L644.8 611.4L644.8 618.0L647.1 630.9L647.6 666.3L648.0 696.0L647.4 696.0L647.7 648.6L648.1 613.2L649.5 577.7L653.0 563.5L652.8 555.2L652.1 529.6L651.5 504.0L651.5 497.0L657.2 493.0L660.0 491.5L664.9 488.6L665.6 461.8L665.2 445.0L663.9 432.4L661.3 406.8L658.1 390.2L653.6 374.8L648.1 358.2L641.1 349.2L633.6 334.0L628.1 330.0L624.9 308.8L621.7 289.6L616.6 276.8L612.8 261.5L612.8 224.3L610.2 215.4L609.1 200.0L608.3 82.0L604.0 81.0L600.0 80.5L596.0 81.0L592.0 84.0L591.0 92.0L588.0 94.0L585.0 92.0L583.0 84.0L578.0 80.0L572.0 79.0L567.0 82.0L562.0 82.0L558.0 80.5L550.0 80.0L545.0 82.0L542.0 90.0L540.0 82.0L536.0 77.5L528.0 78.0L524.0 84.0L520.0 88.0L517.0 88.0L514.0 84.0L511.0 82.0L507.0 88.0L504.0 86.0L500.0 82.0L496.0 84.0L491.0 80.0L487.0 78.0L484.0 78.0Z"/>
<path d="M545.5 200.0L546.8 219.2L547.5 264.0L548.7 302.4L549.8 330.0" fill="none" stroke="#fff" stroke-width="1.3" stroke-linecap="round"/>
<path d="M549.8 330.0L551.2 368.0L551.8 388.0" fill="none" stroke="#fff" stroke-width="2.6" stroke-linecap="round"/>
<path class="wd" d="M543.8 96.7h1.1M544.0 101.3h0.9M544.1 105.9h1.0M544.1 110.5h1.2M544.0 119.6h0.9M544.0 124.2h1.2M544.1 128.8h0.9M543.9 133.4h1.0M544.1 138.0h1.2M544.0 142.6h1.4M544.1 151.8h1.2M543.8 165.6h1.0M544.4 174.8h1.0M544.3 179.4h1.1M544.4 184.0h1.5M544.8 188.6h1.5M544.4 197.8h1.5M587.2 110.0h4.0M587.5 110.9h3.4M587.5 114.6h3.4M587.8 115.5h2.9M588.0 119.2h3.5M588.2 120.1h3.0M587.9 123.8h3.5M588.2 124.7h3.0M587.4 128.4h4.0M587.7 129.3h3.4M587.6 133.0h3.2M587.8 133.9h2.8M587.6 137.6h3.6M587.9 138.5h3.1M588.5 142.6h1.6M589.2 151.8h1.2M589.0 156.4h2.0M588.3 170.2h2.5M588.4 174.8h2.5M589.4 193.2h1.2M583.3 96.7h1.6M583.3 101.3h1.7M583.4 110.5h1.4M583.7 115.1h1.3M583.6 119.6h1.4M583.2 124.2h1.3M583.3 128.8h1.5M583.4 133.4h1.7M591.2 161.0h1.8M591.9 174.8h1.3M591.3 179.4h1.4M591.4 184.0h1.5M591.7 197.8h1.1M592.0 202.3h1.8M592.3 211.5h1.2M591.9 216.1h1.4M592.2 225.3h1.3M592.5 229.9h1.5M592.4 243.7h1.1M593.0 257.5h1.2M592.8 266.7h2.0M593.1 271.3h1.0M592.9 275.9h1.2M593.1 280.5h0.9M593.2 285.0h1.1M593.1 294.2h1.9M593.9 317.2h1.2M593.8 321.8h1.7M593.8 326.4h1.1M551.6 96.7h1.3M551.8 105.9h1.2M551.3 124.2h1.3M570.6 142.6h1.8M571.0 151.8h1.0M570.2 156.4h1.6M570.6 161.0h1.4M570.7 165.6h1.8M501.7 138.0h1.1M502.7 142.6h1.0M502.8 147.2h1.0M503.4 151.8h1.1M503.5 156.4h1.1M521.9 147.2h1.1M522.4 151.8h0.9M522.0 156.4h0.9M516.9 96.7h0.8M517.0 101.3h1.1M563.0 165.6h0.7M563.1 170.2h1.4M562.9 174.8h1.6M563.1 179.4h1.6M564.1 184.0h1.3M565.0 188.6h0.9M565.8 197.8h0.8M570.8 234.9h1.9M570.9 238.9h1.8M571.4 244.0h0.9M575.5 215.7h1.8M576.2 220.4h1.7M577.0 224.9h0.7M576.7 230.3h2.0M577.4 234.1h1.5M577.2 239.2h1.9M581.9 243.3h1.1M582.3 248.5h1.1M582.4 252.4h1.2M582.0 257.7h1.7M582.2 262.1h1.5M569.6 220.9h1.6M569.8 225.7h2.1M576.6 262.4h0.9M576.9 266.6h1.6M577.1 271.2h2.0M577.4 275.6h1.6M577.6 280.2h1.0M577.7 285.5h1.9M580.0 307.7h0.6M579.8 312.3h0.6M568.0 284.7h0.8M567.4 289.8h2.1M567.6 294.3h1.4M567.7 298.8h1.9M568.6 303.7h1.4M568.4 308.5h1.3M576.1 244.0h0.9M576.5 248.3h0.9M576.9 252.6h0.6M576.4 257.5h1.8M579.1 303.0h0.8M582.4 275.5h1.3M583.0 280.0h0.9M583.1 284.6h1.6M583.7 289.5h1.3M583.6 294.3h1.3M575.4 307.7h1.3M575.0 312.9h1.8M572.8 303.0h0.6M564.6 252.7h0.8M564.6 257.1h1.8M564.8 261.9h1.0M564.9 267.0h1.9M564.9 271.7h1.6M582.8 220.5h1.7M583.2 225.2h1.9M583.1 229.9h1.9M583.4 234.5h1.6M583.4 239.1h1.6M571.4 335.4h1.7M572.2 340.4h0.6M573.1 344.7h0.8M573.2 349.4h0.8M573.3 354.1h0.8M574.1 358.6h0.6M574.8 363.5h1.0M556.7 381.1h1.8M557.0 386.2h1.6M568.4 390.8h1.5M569.2 395.7h1.6M578.6 390.7h0.7M579.1 395.2h1.6M579.9 400.1h1.5M580.3 404.5h1.2M564.2 345.2h1.6M564.8 349.1h1.9M565.9 354.1h0.7M574.6 413.9h1.4M575.5 418.1h0.7M576.0 422.9h1.9M577.0 427.1h1.6M557.1 336.0h1.3M557.2 339.9h1.9M558.4 344.6h1.5M559.2 349.0h1.3M560.4 354.2h0.6M560.4 358.4h2.0M561.0 363.5h1.0M569.1 372.7h0.8M569.6 377.0h0.8M570.1 381.3h1.5M571.6 386.1h0.7M571.8 390.4h1.4M566.6 404.2h1.2M566.6 409.0h1.6M567.6 413.9h0.6M568.1 418.2h1.9M568.9 422.6h1.2M565.1 372.1h1.2M564.6 340.1h0.9M568.2 339.8h1.4M568.9 345.0h0.7M568.8 349.8h1.4M569.2 354.1h1.4M570.0 358.6h0.8M570.9 363.4h1.1M624.9 368.1h0.6M625.1 372.4h1.7M637.9 436.7h0.6M638.1 440.8h1.8M639.7 445.6h1.3M644.6 386.5h0.6M645.7 390.8h0.8M646.2 395.4h1.4M656.9 409.3h2.0M657.8 413.9h1.9M637.4 422.8h1.3M637.7 427.8h1.7M638.6 431.6h1.0M656.4 437.1h0.9M657.5 440.9h0.7M658.7 445.4h0.7M659.5 450.6h1.2M660.2 454.6h1.0M636.2 395.1h1.2M636.5 400.3h1.8M638.1 404.5h1.0M645.5 436.2h1.6M646.5 441.5h1.7M647.2 446.0h1.5M648.4 450.0h1.5M650.2 436.4h1.2M651.1 441.1h1.2M616.5 381.8h1.1M617.2 386.4h1.2M619.3 391.0h1.0M619.9 395.2h0.9M621.2 400.0h1.0M607.6 381.2h1.5M609.1 386.1h0.8M609.9 391.1h1.3M653.0 404.8h0.7M653.5 409.3h1.1M654.2 413.6h1.2M654.9 418.4h1.6M655.7 422.9h0.9M656.7 427.6h1.6M643.0 441.2h1.1M612.3 376.9h1.6M613.2 381.2h0.8M613.5 385.8h1.1M614.2 391.1h0.6M614.1 395.4h1.8M652.7 432.1h1.2M624.7 431.8h1.1M625.3 436.3h1.4M641.2 423.1h1.5M641.7 427.5h1.8M617.8 422.4h0.6M626.9 399.7h1.0M627.6 404.1h1.0M628.7 408.9h1.0M629.6 414.0h0.7M630.1 418.1h0.9M630.5 422.5h2.0M641.9 399.9h2.0M642.8 404.3h2.0M643.5 409.1h1.7M644.6 414.1h1.7M641.6 418.6h1.5M615.3 409.2h1.4M616.6 413.7h1.0M617.4 418.7h0.7M609.0 395.5h0.9M609.0 400.0h1.9M622.8 427.3h2.0M636.6 381.9h1.0M637.9 386.4h1.2M638.7 390.9h2.0M623.5 409.2h1.3M624.5 413.3h0.7M625.0 418.3h1.1M653.9 446.3h1.2M654.7 450.8h0.7M648.5 422.5h0.7M649.5 427.3h0.6M640.7 413.6h1.2M621.6 422.9h1.8M617.6 340.1h0.8M618.1 344.8h1.7M619.0 349.6h1.5M627.2 358.1h1.5M629.1 362.8h0.6M629.1 353.8h1.2M635.8 335.8h1.2M637.0 339.7h1.7M627.0 344.8h1.7M628.5 349.9h2.0M613.5 349.6h1.7M615.7 354.1h0.7M616.8 359.0h0.6M618.2 363.3h0.6M605.2 349.1h0.9M606.3 353.5h1.9M602.6 345.2h1.0M614.9 335.3h1.3M603.1 336.0h1.5M604.2 340.4h1.4M607.1 344.5h0.7M629.1 340.2h2.0M631.4 344.9h0.6M633.9 450.2h1.0M652.2 469.1h0.8M652.9 473.8h0.6M652.8 477.9h2.0M653.5 482.3h1.7M663.3 463.8h1.0M663.6 468.7h1.7M648.0 500.8h0.6M648.3 505.6h1.0M648.9 510.1h0.7M646.3 459.5h1.5M647.0 463.8h1.5M648.0 468.8h1.0M648.4 473.1h0.6M648.4 478.5h1.5M648.7 482.7h0.9M645.8 496.9h1.3M644.5 487.5h0.7M645.1 491.8h1.0M644.7 455.4h1.8M654.7 459.3h0.6M654.9 464.1h0.6M652.9 487.6h1.5M653.6 491.4h1.0M643.7 450.1h1.8M640.3 450.8h1.3M640.0 454.8h2.0M640.1 459.8h1.7M640.9 464.6h0.7M641.0 469.2h1.1M579.7 161.1h0.6M579.6 165.6h1.5M556.6 115.2h0.6M556.1 119.7h0.6M555.9 124.5h0.6M556.1 129.0h0.8M578.1 170.4h0.7M578.0 174.6h1.1M577.8 179.0h1.4M578.3 184.1h0.6M577.9 188.4h1.2M577.6 193.5h1.6M578.2 198.0h0.6M605.5 294.2h0.8M605.4 298.7h0.7M605.0 302.9h0.6M604.5 308.5h0.9M604.4 313.0h0.9M605.0 316.9h0.6M613.0 312.9h1.3M613.1 317.6h0.6M612.5 321.7h0.9M612.1 326.2h1.4M601.5 248.4h0.6M601.5 253.2h0.9M601.4 257.2h0.6M601.4 261.9h0.6M601.5 266.9h1.0"/>
<path class="d" d="M484.3 131.1h0m.7 4.6h0m.8 4.6h0m.7 4.6h0m.8 4.6h0m.7 4.6h0m.8 4.6h0m1 4.6h0m.9 4.6h0m3 4.6h0m4 4.6h0m1.5 4.6h0m1.4 4.6h0m3.4 4.6h0m3.5 4.6h0m5.5 4.6h0m.6 4.5h0m.5 4.6h0m.5 4.6h0m1.3 4.6h0m1.6 4.6h0m2.4 4.6h0m2.6 4.6h0m.8 4.6h0m.2 4.6h0m.2 4.6h0m2.3 4.6h0m2.3 4.6h0m.1 4.6h0m.2 4.6h0m.2 4.6h0m.9 4.6h0m1.9 4.6h0m.5 4.6h0m0 4.5h0m0 4.6h0m0 4.6h0m0 4.6h0m0 4.6h0m0 4.6h0m0 4.6h0m0 4.6h0m0 4.6h0m0 4.6h0m0 4.6h0m.1 4.6h0m0 4.6h0m.1 4.6h0m0 4.6h0m0 4.6h0m.1 4.6h0m44.5-53.3h0m-.6 4.6h0m-.6 4.5h0m-.3 4.6h0m0 4.6h0m-.1 4.6h0m-.1 4.6h0m-.1 4.6h0m.2 4.6h0m.1 4.6h0m.2 4.6h0m.2 4.6h0m.2 4.6h0m.2 4.6h0m.5 4.6h0m.7 4.6h0m.7 4.6h0m.4 4.6h0m.4 4.6h0m.4 4.6h0m.4 4.5h0m.6 4.6h0m.5 4.6h0m.5 4.6h0m.3 4.6h0m.2 4.6h0m.2 4.6h0m-28.9-93.3h0m0 4.6h0m0 4.6h0m0 4.6h0m0 4.6h0m0 4.6h0m0 4.6h0m.6 4.6h0m.7 4.6h0m.8 4.6h0m.7 4.6h0m1 4.6h0m.9 4.6h0m1 4.6h0m.8 4.6h0m.7 4.6h0m.8 4.6h0m.7 4.6h0m.7 4.5h0m.7 4.6h0m.7 4.6h0m1.2 4.6h0m1.2 4.6h0m1.2 4.6h0m-.5-11.5h0m1.1 4.6h0m1 4.6h0m1.1 4.6h0m-.3-15.1h0m.9 4.6h0m.9 4.5h0m4.2-10.5h0m1.8 4.6h0m1.7 4.6h0m1.8 4.6h0m1.7 4.6h0m-3.9-16.1h0m1.5 4.6h0m1.5 4.6h0m1.5 4.6h0m-2.2-10.4h0m1.1 4.6h0m1.2 4.6h0m-1.4-11.5h0m.4 4.6h0m4.2-124.7h0m.8 4.6h0m.7 4.6h0m.8 4.6h0m.8 4.6h0m.8 4.6h0m1.1 4.5h0m1.1 4.6h0m1.1 4.6h0m1.4 4.6h0m1.4 4.6h0m1.4 4.6h0m1.1 4.6h0m1.2 4.6h0m.6 4.6h0m.6 4.6h0m.6 4.6h0m.6 4.6h0m.4 4.6h0m.5 4.6h0m.4 4.6h0m1.8 4.6h0m2.2 4.6h0m1.2 4.6h0m1.1 4.5h0m1 4.6h0m1 4.6h0m-4.2-341.8h0m.1 4.6h0m0 4.6h0m0 4.6h0m.1 4.6h0m0 4.6h0m0 4.6h0m0 4.6h0m.1 4.6h0m0 4.6h0m0 4.6h0m.1 4.5h0m0 4.6h0m0 4.6h0m.1 4.6h0m0 4.6h0m0 4.6h0m.1 4.6h0m0 4.6h0m0 4.6h0m.1 4.6h0m0 4.6h0m0 4.6h0m0 4.6h0m.1 4.6h0m.1 4.6h0m.3 4.6h0m.3 4.6h0m.4 4.6h0m1.2 4.5h0m1.3 4.6h0m.1 4.6h0m0 4.6h0m0 4.6h0m0 4.6h0m0 4.6h0m0 4.6h0m0 4.6h0m0 4.6h0m.9 4.6h0m1.2 4.6h0m1.1 4.6h0m1.5 4.6h0m1.8 4.6h0m1.9 4.6h0m1 4.6h0m.8 4.6h0m.8 4.5h0m.7 4.6h0m.8 4.6h0m.7 4.6h0m.7 4.6h0m.6 4.6h0m.7 4.6h0m7.5 8.3h0m2.3 4.6h0m2.3 4.6h0m2.9 4.6h0m3.6 4.6h0m2.4 4.6h0m1.5 4.5h0m1.5 4.6h0m1.5 4.6h0m1.4 4.6h0m1.3 4.6h0m1.4 4.6h0m1 4.6h0m.9 4.6h0m.9 4.6h0m.9 4.6h0m.5 4.6h0m.4 4.6h0m.5 4.6h0m.5 4.6h0m.4 4.6h0m-19.2 139.2h0m.5 4.6h0m.4 4.6h0m.5 4.6h0m.4 4.6h0m.1 4.6h0m0 4.6h0m.1 4.5h0m.1 4.6h0m-.9 4.6h0m-.8 4.6h0m.3 4.6h0m.8 4.6h0m.8 4.6h0m.4 4.6h0m.1 4.6h0m.1 4.6h0m0 4.6h0m.1 4.6h0m.1 4.6h0m0 4.6h0m.1 4.6h0m.1 4.6h0m0 4.6h0m.1 4.6h0m0 4.5h0m.1 4.6h0m.1 4.6h0m3.5-194.3h0m0 4.6h0m.1 4.6h0m.1 4.6h0m.1 4.6h0m.1 4.6h0m.1 4.6h0m.1 4.5h0m.2 4.6h0m.1 4.6h0m.1 4.6h0m.1 4.6h0m.2 4.6h0m.1 4.6h0m.1 4.6h0m-1 4.6h0m-1.1 4.6h0m-1.2 4.6h0m-.3 4.6h0m-.2 4.6h0m-.2 4.6h0m-.2 4.6h0m-.2 4.6h0m-.2 4.6h0m-.1 4.6h0m-.2 4.5h0m-.1 4.6h0m0 4.6h0m-.1 4.6h0m0 4.6h0m-.1 4.6h0m0 4.6h0m-.1 4.6h0m0 4.6h0m0 4.6h0m-.1 4.6h0m0 4.6h0m0 4.6h0m-.1 4.6h0m0 4.6h0m0 4.6h0m0 4.6h0m-.1 4.6h0m0 4.5h0m-14.6-236.6h0m2.7 4.6h0m2.6 4.6h0m2 4.6h0m.6 4.6h0m.6 4.6h0m.7 4.6h0m.6 4.6h0m.4 4.6h0m.4 4.6h0m.4 4.6h0m.5 4.6h0m.3 4.6h0m.2 4.6h0m.3 4.6h0m.3 4.6h0m.2 4.5h0m.2 4.6h0m0 4.6h0m.1 4.6h0m.1 4.6h0m.1 4.6h0m0 4.6h0m.1 4.6h0m.1 4.6h0m-109.8-212.7h0m.2 4.6h0m.1 4.6h0m.2 4.6h0m.4 4.6h0m1.9 4.6h0m3.3 4.5h0m-10.2-53.7h0m0 4.6h0m0 4.6h0m0 4.6h0m0 4.6h0m0 4.6h0m0 4.6h0m0 4.6h0m0 4.6h0m-32.3-171.7h0m3.8 0h0m.4 5.8h0m2.8 1.7h0m39 184.8h0m.2 4.6h0m.1 4.6h0m1.2-11.5h0m.1 4.6h0m0 4.6h0m6.1-2.6h0m0 5.2h0m-.3 5.1h0m-2.3-15.4h0m-.6 3.9h0m-68.6-315h0m5-.5h0m4 2h0m9 1.5h0m7 4.5h0m4-4.5h0m3 .5h0m14-4h0m4-.2h0m4 0h0m9 3.2h0m5-1.5h0m8 .5h0m9 1h0m5-2.5h0m3 .5h0m3 .5h0m22 .5h0m4 .5h0m4 .5h0m-10.5 3.5h0m-1.5 5.5h0m20.9 144.2h0m3 4.6h0m2 4.6h0m1.8 4.6h0m2.2 4.6h0m1.5 4.6h0m1 4.6h0m1.7 4.6h0m1.4 4.6h0m1 4.6h0m.7 4.6h0m2 4.6h0m.5 4.5h0m.2 4.6h0m.1 4.6h0m0 4.6h0m0 4.6h0m0 4.6h0m.6 4.6h0m1.3 4.6h0m1.5 4.6h0m1.6 4.6h0m1.7 4.6h0m1.9 4.6h0m2.1 4.6h0m2 4.6h0m2.3 4.6h0m2.1 4.6h0m.9 4.6h0m.9 4.5h0m.9 4.6h0m.9 4.6h0m1.1 4.6h0m1 4.6h0m1.1 4.6h0m.8 4.6h0m.7 4.6h0m.7 4.6h0m.7 4.6h0m.5 4.6h0m.5 4.6h0m.4 4.6h0m.5 4.6h0m.4 4.6h0m.4 4.6h0m.2 4.6h0m.2 4.6h0m.2 4.5h0m.3 4.6h0m.2 4.6h0m-50.6-213.6h0m2.1 4.6h0m.8 4.6h0m.7 4.6h0m.5 4.6h0m.5 4.6h0m.4 4.6h0m.9 4.6h0m.9 4.6h0m.9 4.5h0m1 4.6h0m1.7 4.6h0m1.5 4.6h0m1.4 4.6h0m1.5 4.6h0m1.2 4.6h0m1 4.6h0m.9 4.6h0m.9 4.6h0m2.2 4.6h0m2.8 4.6h0m2.3 4.6h0m2.3 4.6h0m2.3 4.6h0m2.3 4.6h0m1.4 4.6h0m1 4.6h0m1 4.5h0m1 4.6h0m1.1 4.6h0m1.3 4.6h0m1.2 4.6h0m1 4.6h0m.8 4.6h0m.7 4.6h0m.8 4.6h0m-31.1-83.8h0m2.1 4.5h0m2 4.6h0m2.1 4.6h0m2.3 4.6h0m2.3 4.6h0m2.3 4.6h0m2.3 4.6h0m1.8 4.6h0m1 4.6h0m1.1 4.6h0m1 4.6h0m1.2 4.6h0m1.2 4.6h0m1.3 4.6h0m-73.3-47.1h0m.5 4.6h0m.5 4.6h0m.5 4.6h0m.5 4.6h0m.5 4.6h0m.5 4.5h0m1.4-27.5h0m.6 4.6h0m.6 4.6h0m.6 4.6h0m.6 4.6h0m.6 4.6h0m.6 4.5h0m1-27.5h0m.6 4.6h0m.7 4.6h0m.7 4.6h0m.7 4.6h0m.6 4.6h0m.7 4.5h0m.2-27.5h0m.7 4.6h0m.7 4.6h0m.8 4.6h0m.7 4.6h0m.7 4.6h0m.7 4.5h0m-13.9 6h0m2.7 4.6h0m1.7 4.6h0m1.1 4.6h0m3.5-12.4h0m.7 4.6h0m.9 4.6h0m.8 4.6h0m.5 4.6h0m0 4.6h0m0 4.6h0m1.6 4.6h0m2.1 4.6h0m.9 4.6h0m1 4.5h0m1.1 4.6h0m-15.7-12.6h0m8.3 7.6h0m-3.2 2.6h0m21.8-3.8h0m.6 21.7h0m2 5.8h0m-18.6-19.4h0m.2 4.6h0m.2 4.6h0m.2 4.6h0m8.6-18.4h0m0 4.6h0m0 4.6h0m.1 4.6h0m0 4.6h0m0 4.6h0m0 4.5h0m.1 4.6h0m0 4.6h0m-39.1-16.7h0m3.6 5.8h0m5.4-3.6h0m-.7 7.2h0m3.9 3.1h0m4.5-8.6h0m31.3 .4h0m8.7 3.2h0m1.5 4.6h0m0 4.6h0m0 4.6h0m.6 4.6h0m.8 4.6h0m1 4.6h0m1.9 4.6h0m.6 4.6h0m.5 4.6h0m1.4 4.6h0m.6 4.6h0m1 4.6h0m1.7 4.6h0m1.6 4.6h0m.9 4.6h0m1 4.6h0m.6 4.6h0m.3 4.5h0m.3 4.6h0m0 4.6h0m0 4.6h0m0 4.6h0m0 4.6h0m.6 4.6h0m1.1 4.6h0m1.3 4.6h0m-16.3-121.7h0m1.6 4.5h0m.7 4.6h0m0 4.6h0m.2 4.6h0m.8 4.6h0m.8 4.6h0m1.5 4.6h0m1.4 4.6h0m.3 4.6h0m1.1 4.6h0m1.1 4.6h0m.5 4.6h0m1.6 4.6h0m1.7 4.6h0m1.2 4.6h0m.9 4.6h0m.9 4.6h0m.4 4.6h0m.3 4.5h0m.1 4.6h0m-12.4-88.6h0m1.2 4.6h0m0 4.6h0m0 4.6h0m.8 4.5h0m.7 4.6h0m1.3 4.6h0m1.7 4.6h0m.4 4.6h0m.8 4.6h0m1.4 4.6h0m.4 4.6h0m29-33.1h0m.6 4.6h0m.4 4.6h0m0 4.6h0m.1 4.6h0m.3 4.6h0m.2 4.6h0m.4 4.6h0m.6 4.6h0m.7 4.6h0m1.1 4.6h0m.6 4.6h0m.4 4.6h0m-.4 4.6h0m-.2 4.5h0m0 4.6h0m1 4.6h0m.6 4.6h0m.3 4.6h0m0 4.6h0m0 4.6h0m.4 4.6h0m.1 4.6h0m-.4 4.6h0m0 4.6h0m0 4.6h0m0 4.6h0m0 4.6h0m0 4.6h0m0 4.6h0m0 4.6h0m0 4.6h0m0 4.5h0m0 4.6h0m0 4.6h0m0 4.6h0m0 4.6h0m0 4.6h0m0 4.6h0m0 4.6h0m0 4.6h0m0 4.6h0m0 4.6h0m0 4.6h0m0 4.6h0m0 4.6h0m0 4.6h0m0 4.6h0m0 4.6h0m0 4.6h0m0 4.5h0m-.1 4.6h0m0 4.6h0m0 4.6h0m0 4.6h0m0 4.6h0m0 4.6h0m0 4.6h0m0 4.6h0m.1 4.6h0m0 4.6h0m0 4.6h0m0 4.6h0m0 4.6h0m0 4.6h0m0 4.6h0m-.1 4.6h0m0 4.6h0m0 4.5h0m-10-282.5h0m1.3 4.6h0m1.3 4.6h0m.8 4.6h0m1.6 4.6h0m1.3 4.6h0m.6 4.6h0m.6 4.6h0m-20.7 52.8h0m.5 4.6h0m.6 4.6h0m.4 4.6h0m.5 4.6h0m.2 4.6h0m.2 4.6h0m.2 4.5h0m0 4.6h0m.1 4.6h0m.7 4.6h0m.7 4.6h0m.7 4.6h0m-1.2 4.6h0m-.8 4.6h0m1.6 4.6h0m-.4 4.6h0m0 4.6h0m.3 4.6h0m.3 4.6h0m.5 4.6h0m.3 4.6h0m.2 4.6h0m.1 4.6h0m0 4.6h0m.1 4.5h0m.3 4.6h0m.3 4.6h0m.4 4.6h0m.5 4.6h0m.2 4.6h0m0 4.6h0m.1 4.6h0m.1 4.6h0m-6.3-158.5h0m1.7 4.6h0m1.7 4.6h0m2.2 4.6h0m1.9 4.6h0m.5 4.6h0m.4 4.6h0m.5 4.6h0m.5 4.6h0m.8 4.5h0m.9 4.6h0m.8 4.6h0m.4 4.6h0m.2 4.6h0m.3 4.6h0m.6 4.6h0m.4 4.6h0m.4 4.6h0m.5 4.6h0m.3 4.6h0m.4 4.6h0m.1 4.6h0m.2 4.6h0m.1 4.6h0m.1 4.6h0m.1 4.6h0m.1 4.6h0m.1 4.5h0m.1 4.6h0m.3 4.6h0m.2 4.6h0m.2 4.6h0m.3 4.6h0m.2 4.6h0m.2 4.6h0m.2 4.6h0m-18.8-157.6h0m1.3 4.6h0m1.3 4.6h0m1.3 4.6h0m1.4 4.6h0m.8 4.6h0m.5 4.6h0m.5 4.6h0m.5 4.6h0m.4 4.6h0m.5 4.6h0m.6 4.6h0m.8 4.5h0m1 4.6h0m.6 4.6h0m.7 4.6h0m.5 4.6h0m.6 4.6h0m.6 4.6h0m.7 4.6h0m.6 4.6h0m.7 4.6h0m.6 4.6h0m.6 4.6h0m-16.5-94.2h0m.5 4.6h0m.6 4.6h0m.4 4.6h0m.3 4.6h0m.3 4.6h0m.5 4.6h0m.6 4.6h0m.7 4.6h0m.8 4.5h0m.8 4.6h0m.8 4.6h0m.9 4.6h0m.9 4.6h0m1 4.6h0m1 4.6h0m1.1 4.6h0m1.2 4.6h0m1 4.6h0m.9 4.6h0m.8 4.6h0m3.4-44.6h0m-.1 4.6h0m-.1 4.6h0m-.1 4.6h0m-.1 4.6h0m-.1 4.6h0m-.1 4.6h0m-.2 4.6h0m-.1 4.6h0m-.1 4.6h0m-.2 4.6h0m-.1 4.6h0m-.1 4.6h0m-.2 4.5h0m-.1 4.6h0m0 4.6h0m0 4.6h0m0 4.6h0m.1 4.6h0m0 4.6h0m0 4.6h0m.1 4.6h0m-.2 4.6h0m0 4.6h0m0 4.6h0m0 4.6h0m.1 4.6h0m0 4.6h0m0 4.6h0m0 4.6h0m.1 4.6h0m0 4.5h0m4.5-141.7h0m0 4.6h0m0 4.6h0m0 4.6h0m0 4.6h0m-.1 4.6h0m0 4.6h0m0 4.6h0m0 4.6h0m-.1 4.6h0m0 4.6h0m-.1 4.6h0m0 4.5h0m0 4.6h0m-.1 4.6h0m.1 4.6h0m0 4.6h0m.1 4.6h0m0 4.6h0m.1 4.6h0m0 4.6h0m.1 4.6h0m-.7 4.6h0m0 4.6h0m.1 4.6h0m0 4.6h0m.1 4.6h0m0 4.6h0m.1 4.6h0m0 4.6h0m.1 4.5h0m0 4.6h0m3.4-141.7h0m.1 4.6h0m0 4.6h0m.1 4.6h0m.1 4.6h0m0 4.6h0m.1 4.6h0m.1 4.6h0m0 4.6h0m.1 4.6h0m.1 4.5h0m0 4.6h0m.1 4.6h0m.1 4.6h0m0 4.6h0m.1 4.6h0m.1 4.6h0m0 4.6h0m.1 4.6h0m0 4.6h0m.1 4.6h0m.1 4.6h0m-1.2 4.6h0m0 4.6h0m.1 4.6h0m.1 4.6h0m.1 4.6h0m0 4.6h0m.1 4.5h0m.1 4.6h0m.1 4.6h0m.1 4.6h0m-6.4 3.2h0m.2 4.6h0m.2 4.6h0m.2 4.6h0m.2 4.6h0m.2 4.6h0m.2 4.6h0m.1 4.6h0m.1 4.6h0m.1 4.6h0m.1 4.6h0m1.6-45.7h0m.2 4.6h0m.1 4.6h0m.2 4.6h0m.1 4.6h0m.1 4.5h0m.2 4.6h0m.1 4.6h0m0 4.6h0m.1 4.6h0m.1 4.6h0m2-45.7h0m.1 4.6h0m.1 4.6h0m.1 4.6h0m0 4.6h0m.1 4.6h0m.1 4.6h0m.1 4.6h0m.1 4.6h0m0 4.6h0m.1 4.5h0m-2.7 4.2h0m.7 4.6h0m.1 4.6h0m.1 4.6h0m.1 4.6h0m.1 4.6h0m.1 4.5h0m.1 4.6h0m0 4.6h0m1.5-36.7h0m.1 4.6h0m0 4.6h0m.1 4.6h0m0 4.6h0m.1 4.6h0m.1 4.5h0m0 4.6h0m.1 4.6h0m.2 0h0m.1 4.6h0m0 4.6h0m.1 4.6h0m0 4.6h0m.1 4.6h0m0 4.6h0m-10.8-241.2h0m-.1 4.6h0m-.1 4.6h0m-.1 4.6h0m-.2 4.6h0m-.1 4.6h0m-.1 4.6h0m-.2 4.6h0m-.1 4.6h0m-.1 4.5h0m-.1 4.6h0m0 4.6h0m0 4.6h0m.1 4.6h0m0 4.6h0m0 4.6h0m0 4.6h0m.1 4.6h0m-.2 4.6h0m0 4.6h0m0 4.6h0m0 4.6h0m.1 4.6h0m0 4.6h0m0 4.6h0m0 4.6h0m.1 4.6h0"/>
<text x="459.9" y="84.4" textLength="12.3" lengthAdjust="spacingAndGlyphs" class="t">0</text>
<text x="447.6" y="176.3" textLength="24.6" lengthAdjust="spacingAndGlyphs" class="t">20</text>
<text x="447.6" y="268.2" textLength="24.6" lengthAdjust="spacingAndGlyphs" class="t">40</text>
<text x="447.6" y="360.1" textLength="24.6" lengthAdjust="spacingAndGlyphs" class="t">60</text>
<text x="447.6" y="452.0" textLength="24.6" lengthAdjust="spacingAndGlyphs" class="t">80</text>
<text x="435.3" y="543.8" textLength="36.9" lengthAdjust="spacingAndGlyphs" class="t">100</text>
<text x="435.3" y="635.7" textLength="36.9" lengthAdjust="spacingAndGlyphs" class="t">120</text>
<text x="435.3" y="727.6" textLength="36.9" lengthAdjust="spacingAndGlyphs" class="t">140</text>
<text x="435.3" y="819.5" textLength="36.9" lengthAdjust="spacingAndGlyphs" class="t">160</text>
<text x="435.3" y="911.4" textLength="36.9" lengthAdjust="spacingAndGlyphs" class="t">180</text>
<text x="468.9" y="930.3" textLength="24.6" lengthAdjust="spacingAndGlyphs" class="t">32</text>
<text x="589.7" y="930.3" textLength="24.6" lengthAdjust="spacingAndGlyphs" class="t">34</text>
<text transform="translate(423.6 546.6) rotate(-90)" textLength="115.5" lengthAdjust="spacingAndGlyphs" class="b">Depth, m</text>
<text x="504.6" y="958.2" textLength="153.5" lengthAdjust="spacingAndGlyphs" class="b">Salinity, psu</text>
<!-- panel 3 -->
<path d="M774.3 76.0V903.0" stroke="#cecece" stroke-width="1.8"/>
<path d="M774.3 878V894" stroke="#dedede" stroke-width="3.2"/>
<path d="M850.2 76.0V903.0" stroke="#cecece" stroke-width="1.8"/>
<path d="M850.2 878V894" stroke="#dedede" stroke-width="3.2"/>
<path d="M926.4 76.0V903.0" stroke="#cecece" stroke-width="1.8"/>
<path d="M926.4 878V894" stroke="#dedede" stroke-width="3.2"/>
<path d="M769.2 167.9H971.0" stroke="#cecece" stroke-width="1.8"/>
<path d="M769.2 259.8H971.0" stroke="#cecece" stroke-width="1.8"/>
<path d="M769.2 351.7H971.0" stroke="#cecece" stroke-width="1.8"/>
<path d="M769.2 443.6H971.0" stroke="#cecece" stroke-width="1.8"/>
<path d="M769.2 535.4H971.0" stroke="#cecece" stroke-width="1.8"/>
<path d="M769.2 627.3H971.0" stroke="#cecece" stroke-width="1.8"/>
<path d="M769.2 719.2H971.0" stroke="#cecece" stroke-width="1.8"/>
<path d="M769.2 811.1H971.0" stroke="#cecece" stroke-width="1.8"/>
<path d="M769.2 167.9h9.8M971.0 167.9h-9.8M769.2 259.8h9.8M971.0 259.8h-9.8M769.2 351.7h9.8M971.0 351.7h-9.8M769.2 443.6h9.8M971.0 443.6h-9.8M769.2 535.4h9.8M971.0 535.4h-9.8M769.2 627.3h9.8M971.0 627.3h-9.8M769.2 719.2h9.8M971.0 719.2h-9.8M769.2 811.1h9.8M971.0 811.1h-9.8M774.3 903.0v-9.2M774.3 76.0v8.7M850.2 903.0v-9.2M850.2 76.0v8.7M926.4 903.0v-9.2M926.4 76.0v8.7" stroke="#000" stroke-width="2.2" fill="none"/>
<rect x="769.2" y="76.0" width="201.79999999999995" height="827.0" fill="none" stroke="#000" stroke-width="2.1"/>
<path d="M769.7 878V904.0M971.5 878V904.0" stroke="#000" stroke-width="3.1"/>
<path d="M972.3 349.5V366" stroke="#000" stroke-width="2.6"/><path d="M850.2 349.5V366" stroke="#a8a8a8" stroke-width="1.6"/>
<path class="f" fill-rule="evenodd" d="M777.9 79.0L778.5 82.8L781.1 94.3L784.3 98.2L784.9 112.2L787.5 127.6L792.6 134.0L796.5 146.8L800.3 157.1L803.5 168.6L814.4 176.3L818.2 182.7L820.8 187.8L831.9 196.0L839.9 200.0L842.5 209.0L843.1 216.6L846.9 224.3L852.1 225.6L854.6 235.8L855.3 247.4L861.0 252.5L862.9 269.1L865.5 279.4L866.2 302.4L866.8 330.0L867.4 353.0L869.8 368.4L871.7 385.0L874.9 391.5L875.1 401.7L881.9 406.8L882.6 417.0L885.1 429.9L887.0 440.1L890.2 442.7L892.5 441.5L895.0 444.0L897.3 444.5L896.7 432.4L894.8 413.2L893.5 394.0L893.0 378.0L894.1 369.0L898.4 369.0L902.9 373.0L907.4 377.0L911.2 381.0L913.3 387.6L913.3 413.2L915.8 422.2L917.1 432.4L917.4 445.2L918.3 446.0L918.6 436.0L919.5 425.0L921.0 422.0L923.0 438.8L924.0 452.0L924.5 459.2L927.5 469.4L931.2 478.4L932.5 491.2L933.1 510.4L935.7 523.2L935.7 542.4L936.3 561.6L937.9 577.7L939.7 595.4L941.5 613.2L943.3 630.9L943.6 666.3L944.2 696.0L944.5 696.0L944.6 650.0L945.5 640.0L950.4 684.0L952.1 719.5L952.9 745.0L954.9 760.0L955.2 780.5L955.1 780.5L955.6 760.0L956.3 719.5L955.4 684.0L952.8 648.6L950.1 636.2L949.2 622.0L947.5 604.3L945.7 586.6L944.1 570.0L943.4 561.6L942.8 542.4L942.1 521.9L941.5 504.0L942.8 497.0L946.5 492.0L948.0 488.6L949.8 478.4L949.4 445.0L949.1 432.4L947.7 413.2L946.1 394.0L944.1 371.0L941.5 355.6L935.7 342.8L931.2 332.0L927.6 330.0L923.8 302.4L920.0 276.8L917.4 251.2L916.1 223.0L915.5 200.0L913.6 146.8L913.0 95.6L911.7 82.0L908.0 81.0L903.0 81.0L901.5 90.0L900.0 93.0L893.0 93.0L891.5 84.0L889.0 81.0L881.0 79.5L872.0 79.0L862.0 78.0L857.0 80.0L855.0 93.0L850.0 95.0L843.0 93.0L838.0 86.0L835.0 82.0L828.0 84.0L824.0 92.0L818.0 92.0L815.0 84.0L811.0 82.0L808.0 88.0L806.0 84.0L800.0 83.0L795.0 85.0L790.0 83.0L785.0 80.0L780.0 78.0Z"/>
<path d="M858.0 90.0L858.4 131.0" fill="none" stroke="#fff" stroke-width="1.4" stroke-linecap="round"/>
<path d="M815.5 105.0L817.0 112.0L820.0 120.0" fill="none" stroke="#fff" stroke-width="0.9" stroke-linecap="round"/>
<path d="M901.3 211.0L901.5 219.0" fill="none" stroke="#fff" stroke-width="2.2" stroke-linecap="round"/>
<path class="wd" d="M893.9 100.8h4.5M894.3 101.7h3.8M893.3 105.4h5.3M893.7 106.3h4.5M893.1 110.0h6.1M893.5 110.9h5.2M893.5 114.6h5.5M893.9 115.5h4.6M893.0 119.2h6.2M893.5 120.1h5.3M893.6 123.8h5.9M894.1 124.7h5.0M893.4 128.4h5.2M893.8 129.3h4.4M893.2 133.0h5.4M893.6 133.9h4.6M896.0 142.6h1.8M896.8 151.8h1.2M896.4 161.0h1.5M896.5 165.6h1.6M896.9 170.2h1.2M896.7 174.8h2.3M897.2 179.4h2.5M897.6 193.2h2.5M897.7 197.8h1.8M893.2 151.8h1.6M893.5 174.8h1.7M894.7 184.0h0.9M894.6 188.6h0.9M894.6 193.2h1.3M894.7 197.8h1.7M900.4 206.9h1.8M900.6 216.1h1.9M900.9 220.7h2.4M901.6 229.9h1.9M901.5 234.5h1.8M901.1 243.7h2.6M901.9 248.3h1.7M882.7 225.3h0.8M883.6 243.7h1.3M884.8 252.9h1.0M885.3 257.5h1.0M885.6 262.1h1.2M885.7 266.7h1.3M886.8 271.3h0.7M889.1 275.4h2.2M889.2 276.3h1.9M890.1 280.0h2.1M890.2 280.9h1.8M890.3 284.6h1.5M890.4 285.5h1.3M891.2 289.2h1.7M891.3 290.1h1.5M890.5 293.8h2.9M890.7 294.7h2.5M891.8 298.4h1.4M891.9 299.3h1.2M892.6 303.0h1.7M892.7 303.9h1.4M892.6 307.6h2.1M892.7 308.5h1.8M892.9 294.2h0.8M893.8 298.8h1.1M895.5 308.0h0.8M843.9 129.0h0.6M844.2 133.4h0.9M843.6 138.4h1.8M844.6 142.5h0.6M845.0 147.2h0.6M844.8 151.9h1.1M844.8 156.0h0.7M836.8 110.2h0.7M835.8 115.4h1.8M835.6 119.8h1.3M843.9 119.4h0.8M843.9 124.0h0.6M841.8 110.0h0.9M841.7 114.6h0.7M850.9 138.0h1.4M850.9 142.4h1.9M851.1 147.7h0.7M851.0 151.5h1.8M850.7 156.3h1.7M850.8 161.0h2.1M851.2 165.7h0.6M843.1 106.2h1.8M850.8 174.9h1.1M851.3 179.7h0.6M849.4 119.6h1.9M849.7 124.4h1.0M849.6 128.6h1.1M849.3 133.5h1.0M834.4 123.9h1.4M834.9 128.9h0.6M845.9 161.4h1.6M846.5 165.6h1.0M848.2 110.7h1.2M847.5 114.9h2.0M835.3 193.6h0.9M827.4 114.9h1.5M827.6 119.9h1.5M828.1 124.3h0.6M828.2 128.4h0.9M816.3 160.8h1.5M827.2 138.0h0.8M827.2 142.7h0.9M827.4 147.5h0.6M827.2 152.2h0.7M826.7 156.0h1.4M827.2 160.6h0.6M826.9 165.5h1.2M937.4 367.5h0.8M937.4 372.2h1.3M936.8 354.2h1.4M936.7 358.8h1.0M936.9 363.6h1.4M879.3 399.8h0.8M879.0 405.0h0.6M878.8 409.1h0.6M878.4 413.2h0.6M889.1 423.4h1.3M889.2 427.6h1.2M889.2 431.8h0.6M889.1 436.2h0.6M891.6 312.2h3.7M891.8 313.1h3.1M892.2 316.8h3.6M892.4 317.7h3.0M893.1 321.4h2.5M893.3 322.3h2.1M893.6 335.1h3.0M893.8 336.0h2.5M894.5 339.7h2.8M894.7 340.6h2.4M894.5 344.3h2.6M894.7 345.2h2.2M894.9 348.9h3.1M895.1 349.8h2.6M895.7 353.5h2.7M895.9 354.4h2.3M895.2 358.1h3.6M895.5 359.0h3.1M895.8 362.7h2.9M896.0 363.6h2.5M896.3 316.8h3.6M896.6 317.7h3.0M896.7 321.4h3.3M896.9 322.3h2.8M897.6 325.9h2.4M897.8 326.8h2.0M898.1 330.5h3.2M898.3 331.4h2.7M898.3 335.1h3.5M898.5 336.0h3.0M898.3 339.7h3.2M898.6 340.6h2.8M899.5 348.9h3.3M899.8 349.8h2.8M899.9 353.5h2.9M900.1 354.4h2.5M900.3 358.1h2.6M900.5 359.0h2.2M900.2 362.7h2.8M900.4 363.6h2.4M902.4 335.1h2.1M902.6 336.0h1.8M903.5 344.3h2.4M903.7 345.2h2.1M904.2 348.9h1.8M904.3 349.8h1.6M904.6 353.5h1.8M904.7 354.4h1.5M905.6 362.7h1.7M905.8 363.6h1.4"/>
<path class="d" d="M778.2 80.6h0m.8 4.6h0m1.1 4.6h0m1.1 4.6h0m3.1 4.6h0m.2 4.6h0m.2 4.6h0m.3 4.6h0m.8 4.5h0m.7 4.6h0m.8 4.6h0m3 4.6h0m2.8 4.6h0m1.4 4.6h0m1.4 4.6h0m1.6 4.6h0m1.7 4.6h0m1.5 4.6h0m1.3 4.6h0m1.3 4.6h0m5.7 4.6h0m5.9 4.6h0m2.7 4.6h0m2.4 4.6h0m4.9 4.6h0m6.3 4.6h0m8.7 4.6h0m1.3 4.5h0m1.3 4.6h0m.4 4.6h0m1.1 4.6h0m2.3 4.6h0m6.3 4.6h0m1.1 4.6h0m1 4.6h0m.2 4.6h0m.3 4.6h0m3.7 4.6h0m2.4 4.6h0m.5 4.6h0m.6 4.6h0m.5 4.6h0m1.1 4.6h0m1.2 4.6h0m.4 4.6h0m.1 4.5h0m.2 4.6h0m.1 4.6h0m.2 4.6h0m.1 4.6h0m.1 4.6h0m.1 4.6h0m.1 4.6h0m.1 4.6h0m.1 4.6h0m.1 4.6h0m.1 4.6h0m.1 4.6h0m.1 4.6h0m.2 4.6h0m.5 4.6h0m.7 4.6h0m.7 4.5h0m.7 4.6h0m.5 4.6h0m.5 4.6h0m.6 4.6h0m1.8 4.6h0m1.5 4.6h0m.1 4.6h0m.8 4.6h0m6.1 4.6h0m.3 4.6h0m.3 4.6h0m.8 4.6h0m.9 4.6h0m.9 4.6h0m.8 4.6h0m.9 4.6h0m6.9-67.1h0m-.5 4.6h0m-.1 4.6h0m.1 4.6h0m.2 4.6h0m.2 4.6h0m.3 4.5h0m.3 4.6h0m.3 4.6h0m.3 4.6h0m.5 4.6h0m.4 4.6h0m.5 4.6h0m.4 4.6h0m6.1-58.8h0m5.1 4.6h0m3.7 4.6h0m1.5 4.6h0m.3 4.6h0m0 4.6h0m0 4.6h0m0 4.6h0m0 4.6h0m.3 4.6h0m1.2 4.5h0m1.1 4.6h0m.6 4.6h0m.6 4.6h0m.1 4.6h0m.1 4.6h0m-5.2-355.6h0m.4 4.6h0m.5 4.6h0m.1 4.6h0m0 4.6h0m.1 4.6h0m0 4.6h0m.1 4.6h0m0 4.6h0m.1 4.6h0m0 4.6h0m.1 4.5h0m0 4.6h0m.1 4.6h0m.1 4.6h0m.2 4.6h0m.2 4.6h0m.1 4.6h0m.2 4.6h0m.2 4.6h0m.1 4.6h0m.2 4.6h0m.1 4.6h0m.2 4.6h0m.2 4.6h0m.1 4.6h0m.1 4.6h0m.2 4.6h0m.1 4.6h0m.1 4.5h0m.1 4.6h0m.3 4.6h0m.2 4.6h0m.2 4.6h0m.2 4.6h0m.2 4.6h0m.2 4.6h0m.5 4.6h0m.5 4.6h0m.4 4.6h0m.5 4.6h0m.5 4.6h0m.5 4.6h0m.7 4.6h0m.7 4.6h0m.7 4.6h0m.7 4.6h0m.6 4.5h0m.7 4.6h0m.6 4.6h0m.6 4.6h0m.7 4.6h0m.6 4.6h0m.6 4.6h0m4.2 3.7h0m2 4.6h0m1.9 4.6h0m2 4.6h0m2.1 4.6h0m1.9 4.6h0m.8 4.6h0m.8 4.5h0m.7 4.6h0m.5 4.6h0m.4 4.6h0m.4 4.6h0m.4 4.6h0m.4 4.6h0m.4 4.6h0m.4 4.6h0m.4 4.6h0m.3 4.6h0m.4 4.6h0m.3 4.6h0m.4 4.6h0m.3 4.6h0m.5 9.2h0m.1 4.6h0m0 4.5h0m.1 4.6h0m0 4.6h0m0 4.6h0m.1 4.6h0m0 4.6h0m.1 4.6h0m-.3 4.6h0m-.8 4.6h0m-1.1 4.6h0m-23-29.9h0m1.4 4.6h0m1.3 4.6h0m1.9 4.6h0m1.8 4.6h0m.6 4.6h0m.5 4.6h0m.4 4.6h0m.2 4.6h0m.1 4.6h0m.1 4.6h0m.2 4.6h0m.9 4.6h0m.9 4.6h0m.8 4.6h0m0 4.6h0m0 4.5h0m0 4.6h0m0 4.6h0m.1 4.6h0m.2 4.6h0m.1 4.6h0m.2 4.6h0m.4 4.6h0m.4 4.6h0m.5 4.6h0m.4 4.6h0m.5 4.6h0m.5 4.6h0m.4 4.6h0m.5 4.6h0m.5 4.6h0m.4 4.6h0m.5 4.6h0m.5 4.5h0m.4 4.6h0m.5 4.6h0m.5 4.6h0m.1 4.6h0m.1 4.6h0m0 4.6h0m0 4.6h0m.1 4.6h0m0 4.6h0m.1 4.6h0m0 4.6h0m.1 4.6h0m.1 4.6h0m.1 4.6h0m.1 4.6h0m.1 4.6h0m.1 4.6h0m-1.7-195.3h0m-.9 4.6h0m0 4.6h0m.2 4.6h0m.1 4.6h0m.2 4.6h0m.1 4.6h0m.2 4.5h0m.2 4.6h0m.1 4.6h0m.2 4.6h0m.1 4.6h0m.2 4.6h0m.1 4.6h0m.2 4.6h0m.4 4.6h0m.4 4.6h0m.5 4.6h0m.4 4.6h0m.4 4.6h0m.5 4.6h0m.5 4.6h0m.4 4.6h0m.5 4.6h0m.4 4.6h0m.5 4.5h0m.4 4.6h0m.4 4.6h0m.3 4.6h0m.3 4.6h0m.4 4.6h0m1 4.6h0m1 4.6h0m.7 4.6h0m.4 4.6h0m.3 4.6h0m.3 4.6h0m.4 4.6h0m.3 4.6h0m.3 4.6h0m.4 4.6h0m.2 4.6h0m.1 4.6h0m.1 4.5h0m.1 4.6h0m.1 4.6h0m.2 4.6h0m.1 4.6h0m.1 4.6h0m-.1 4.6h0m-.1 4.6h0m0 4.6h0m-.1 4.6h0m-.1 4.6h0m-.1 4.6h0m-.1 4.6h0m0 4.6h0m-.1 4.6h0m-.1 4.6h0m-.1 4.6h0m-.2 4.6h0m-.1 4.5h0m-4.5-90.5h0m.2 4.6h0m.3 4.6h0m.2 4.6h0m.2 4.6h0m.2 4.6h0m.2 4.6h0m.2 4.6h0m.2 4.6h0m.1 4.6h0m.2 4.6h0m.1 4.6h0m.2 4.6h0m.4 4.6h0m.6 4.6h0m.6 4.6h0m.4 4.6h0m.1 4.5h0m.1 4.6h0m0 4.6h0m.1 4.6h0m-30.9-318.4h0m1.4 4.6h0m1.5 4.6h0m1.9 4.6h0m1.3 4.6h0m.5 4.6h0m.4 4.6h0m.3 4.6h0m.1 4.6h0m.2 4.6h0m.1 4.6h0m.5 4.6h0m1 4.6h0m-163.5-438.8h0m33.5 92.8h0m17.3 25h0m6.4 0h0m.2 5.8h0m4.8 1.7h0m48.1 231.6h0m10.3 11.6h0m2.9 3.3h0m3.8 2.8h0m-12.2-12.3h0m4.5 5.8h0m3.9 3.2h0m4.1 3.2h0m.3-8.3h0m10.9-4.5h0m16.7 35.2h0m2.9 10.9h0m-8.7-41h0m-142.7-369.1h0m4 .2h0m5 1.8h0m9 4h0m5-1.5h0m6 .5h0m5-2h0m4 2h0m20-2h0m3 3h0m5 6h0m3-6h0m3.5-1.5h0m2.5-2.5h0m5-1h0m5-1.2h0m6 .2h0m7 .5h0m6 .5h0m8 1.5h0m5.5 3.5h0m0 6h0m8.5-10h0m5 0h0m4 .5h0m-12.5 292.9h0m1.4 4.6h0m1.3 4.6h0m1.7 4.6h0m1.7 4.6h0m1.4 4.6h0m1.1 4.6h0m1.1 4.6h0m1.1 4.6h0m1 4.6h0m.9 4.6h0m-14.9-44.6h0m1.3 32.7h0m3.8 5.2h0m0 3.2h0m1.9 5.7h0m1.3 6.4h0m1.9 6.4h0m1.3 6.4h0m7.1 9.3h0m0 4.6h0m0 4.6h0m3.9-225.1h0m1.3 4.6h0m1.3 4.6h0m.8 4.6h0m1.2 4.6h0m.7 4.6h0m.1 4.6h0m.6 4.6h0m.7 4.6h0m.7 4.6h0m.6 4.6h0m1 4.6h0m.1 4.5h0m.2 4.6h0m.2 4.6h0m.2 4.6h0m.3 4.6h0m.2 4.6h0m.4 4.6h0m.6 4.6h0m1.5 4.6h0m.9 4.6h0m.7 4.6h0m1.9 4.6h0m2.7 4.6h0m1.9 4.6h0m1.9 4.6h0m1.6 4.6h0m.8 4.6h0m.8 4.5h0m.7 4.6h0m.3 4.6h0m.2 4.6h0m.2 4.6h0m.2 4.6h0m.1 4.6h0m-26.2-149.3h0m-.2 4.6h0m-.2 4.6h0m-.2 4.6h0m.6 4.6h0m.8 4.6h0m.5 4.6h0m.7 4.6h0m.8 4.6h0m.6 4.5h0m.5 4.6h0m.5 4.6h0m22 204.5h0m.8 4.6h0m1.3 4.6h0m.9 4.6h0m1.1 4.6h0m-1 4.6h0m.4 4.6h0m.8 4.5h0m.5 4.6h0m.5 4.6h0m.8 4.6h0m.6 4.6h0m0 4.6h0m.5 4.6h0m.5 4.6h0m.6 4.6h0m.6 4.6h0m.7 4.6h0m.3 4.6h0m.2 4.6h0m.3 4.6h0m.2 4.6h0m.2 4.6h0m.3 4.6h0m.2 4.6h0m.2 4.5h0m.4 4.6h0m.4 4.6h0m.3 4.6h0m.3 4.6h0m.1 4.6h0m.1 4.6h0m.1 4.6h0m.2 4.6h0m.2 4.6h0m.2 4.6h0m.2 4.6h0m.2 4.6h0m.2 4.6h0m.1 4.6h0m.1 4.6h0m.2 4.6h0m.2 4.6h0m.2 4.5h0m.2 4.6h0m.1 4.6h0m.1 4.6h0m.2 4.6h0m.1 4.6h0m0 4.6h0m0 4.6h0m-.1 4.6h0m1 4.6h0m.3 4.6h0m.2 4.6h0m.2 4.6h0m.2 4.6h0m.1 4.6h0m.1 4.6h0m.2 4.6h0m.1 4.6h0m.1 4.5h0m.2 4.6h0m.2 4.6h0m.2 4.6h0m.3 4.6h0m.2 4.6h0m.2 4.6h0m.3 4.6h0m.2 4.6h0m.2 4.6h0m.1 4.6h0m.2 4.6h0m.2 4.6h0m.1 4.6h0m.2 4.6h0m.2 4.6h0m.3 4.6h0m.3 4.6h0m.3 4.5h0m.3 4.6h0m.3 4.6h0m.2 4.6h0m.2 4.6h0m.2 4.6h0m.2 4.6h0m.2 4.6h0m.2 4.6h0m-19.1-337.7h0m1 4.6h0m1 4.6h0m.5 4.6h0m.3 4.6h0m.4 4.6h0m.3 4.6h0m.3 4.6h0m.3 4.6h0m.2 4.6h0m1.5 149.3h0m.3 4.6h0m.4 4.6h0m.3 4.6h0m.3 4.6h0m.3 4.6h0m.4 4.5h0m.5 4.6h0m.4 4.6h0m.5 4.6h0m.3 4.6h0m.3 4.6h0m.2 4.6h0m.2 4.6h0m.2 4.6h0m.2 4.6h0m.1 4.6h0m.2 4.6h0m-2.6-6.9h0m.1 4.6h0m.1 4.6h0m-10.9-100h0m1.8 4.4h0m4.4-4.8h0"/>
<text x="749.9" y="84.4" textLength="12.3" lengthAdjust="spacingAndGlyphs" class="t">0</text>
<text x="737.6" y="176.3" textLength="24.6" lengthAdjust="spacingAndGlyphs" class="t">20</text>
<text x="737.6" y="268.2" textLength="24.6" lengthAdjust="spacingAndGlyphs" class="t">40</text>
<text x="737.6" y="360.1" textLength="24.6" lengthAdjust="spacingAndGlyphs" class="t">60</text>
<text x="737.6" y="452.0" textLength="24.6" lengthAdjust="spacingAndGlyphs" class="t">80</text>
<text x="725.3" y="543.8" textLength="36.9" lengthAdjust="spacingAndGlyphs" class="t">100</text>
<text x="725.3" y="635.7" textLength="36.9" lengthAdjust="spacingAndGlyphs" class="t">120</text>
<text x="725.3" y="727.6" textLength="36.9" lengthAdjust="spacingAndGlyphs" class="t">140</text>
<text x="725.3" y="819.5" textLength="36.9" lengthAdjust="spacingAndGlyphs" class="t">160</text>
<text x="725.3" y="911.4" textLength="36.9" lengthAdjust="spacingAndGlyphs" class="t">180</text>
<text x="740.4" y="930.3" textLength="67.7" lengthAdjust="spacingAndGlyphs" class="t">1025.5</text>
<text x="825.6" y="930.3" textLength="49.2" lengthAdjust="spacingAndGlyphs" class="t">1026</text>
<text x="892.5" y="930.3" textLength="67.7" lengthAdjust="spacingAndGlyphs" class="t">1026.5</text>
<text transform="translate(713.6 546.6) rotate(-90)" textLength="115.5" lengthAdjust="spacingAndGlyphs" class="b">Depth, m</text>
<text x="779.5" y="964.0" textLength="170" lengthAdjust="spacingAndGlyphs" class="b">Density, kg/m</text>
<text x="950.2" y="953.8" textLength="11" lengthAdjust="spacingAndGlyphs" class="b" style="font-size:16px">3</text>
<!-- panel 4 -->
<path d="M1184.3 76.0V903.0" stroke="#cecece" stroke-width="1.8"/>
<path d="M1184.3 878V894" stroke="#dedede" stroke-width="3.2"/>
<path d="M1060.1 167.9H1260.0" stroke="#cecece" stroke-width="1.8"/>
<path d="M1060.1 259.8H1260.0" stroke="#cecece" stroke-width="1.8"/>
<path d="M1060.1 351.7H1260.0" stroke="#cecece" stroke-width="1.8"/>
<path d="M1060.1 443.6H1260.0" stroke="#cecece" stroke-width="1.8"/>
<path d="M1060.1 535.4H1260.0" stroke="#cecece" stroke-width="1.8"/>
<path d="M1060.1 627.3H1260.0" stroke="#cecece" stroke-width="1.8"/>
<path d="M1060.1 719.2H1260.0" stroke="#cecece" stroke-width="1.8"/>
<path d="M1060.1 811.1H1260.0" stroke="#cecece" stroke-width="1.8"/>
<path d="M1060.1 167.9h9.8M1260.0 167.9h-9.8M1060.1 259.8h9.8M1260.0 259.8h-9.8M1060.1 351.7h9.8M1260.0 351.7h-9.8M1060.1 443.6h9.8M1260.0 443.6h-9.8M1060.1 535.4h9.8M1260.0 535.4h-9.8M1060.1 627.3h9.8M1260.0 627.3h-9.8M1060.1 719.2h9.8M1260.0 719.2h-9.8M1060.1 811.1h9.8M1260.0 811.1h-9.8M1184.3 903.0v-9.2M1184.3 76.0v8.7" stroke="#000" stroke-width="2.2" fill="none"/>
<rect x="1060.1" y="76.0" width="199.9000000000001" height="827.0" fill="none" stroke="#000" stroke-width="2.1"/>
<path d="M1060.6 878V904.0M1260.5 878V904.0" stroke="#000" stroke-width="3.1"/>
<path class="f" fill-rule="evenodd" d="M1178.7 80.0L1176.2 84.0L1175.9 146.8L1173.6 166.0L1173.0 185.2L1174.2 200.0L1171.7 219.2L1169.1 238.4L1165.9 251.2L1165.3 271.7L1162.1 289.6L1158.2 302.4L1153.1 315.2L1149.3 330.0L1146.0 337.0L1139.0 349.0L1131.0 358.0L1122.5 366.0L1115.0 376.0L1110.5 390.0L1107.5 407.0L1105.0 425.0L1103.5 440.0L1103.5 478.4L1105.4 481.0L1110.0 485.0L1114.0 486.7L1118.0 485.5L1120.0 481.0L1121.0 472.0L1123.5 470.0L1124.6 475.8L1127.8 484.8L1127.8 504.0L1128.5 529.6L1128.5 555.2L1127.9 570.0L1128.5 595.0L1130.1 631.0L1130.6 696.0L1129.3 696.0L1130.4 631.0L1131.1 595.0L1132.6 570.0L1134.9 542.4L1137.6 516.8L1141.1 491.2L1146.1 478.4L1150.1 465.6L1151.0 461.0L1157.5 452.0L1163.0 446.0L1169.0 441.0L1190.8 440.1L1193.3 432.4L1195.9 419.6L1198.4 409.4L1202.9 403.6L1206.1 396.0L1210.0 400.0L1212.5 400.0L1212.8 388.0L1216.0 386.0L1219.0 384.5L1223.5 377.0L1225.6 366.0L1226.0 332.0L1225.8 300.0L1227.0 286.0L1228.6 286.0L1230.6 300.0L1232.6 332.0L1233.4 364.0L1236.5 363.0L1238.0 355.6L1241.0 347.3L1242.8 341.5L1243.3 330.0L1242.8 330.0L1243.4 302.4L1244.0 276.8L1245.3 264.0L1247.2 257.6L1249.2 244.8L1249.8 212.8L1250.4 200.0L1253.7 191.6L1256.9 178.8L1259.7 153.2L1260.7 134.0L1259.4 102.0L1257.9 84.0L1255.1 79.0L1251.0 79.0L1245.0 80.0L1240.0 81.0L1235.5 82.0L1232.6 95.0L1230.6 158.0L1228.6 165.0L1227.6 95.0L1224.5 86.0L1221.0 80.0L1215.0 82.0L1208.0 81.0L1201.0 81.0L1195.0 80.0L1189.0 82.0L1184.0 81.0Z"/>
<path d="M1211.1 236.0L1211.0 330.0" fill="none" stroke="#fff" stroke-width="0.55" stroke-linecap="round"/>
<path d="M1182.4 337.7L1181.8 370.0L1181.1 401.7" fill="none" stroke="#fff" stroke-width="1.8" stroke-linecap="round"/>
<path d="M1181.1 401.7L1179.0 412.0L1177.5 419.0" fill="none" stroke="#fff" stroke-width="3.2" stroke-linecap="round"/>
<path d="M1177.5 419.0L1176.5 432.0L1176.0 444.0" fill="none" stroke="#fff" stroke-width="4.2" stroke-linecap="round"/>
<path d="M1126.6 399.0L1124.2 405.0L1121.6 412.0" fill="none" stroke="#fff" stroke-width="2.6" stroke-linecap="round"/>
<path d="M1121.6 412.0L1118.6 420.0L1116.4 427.0" fill="none" stroke="#fff" stroke-width="3.6" stroke-linecap="round"/>
<path d="M1116.4 427.0L1115.0 432.0" fill="none" stroke="#fff" stroke-width="2.0" stroke-linecap="round"/>
<path d="M1122.2 470.0L1121.6 482.0" fill="none" stroke="#fff" stroke-width="2.6" stroke-linecap="round"/>
<path d="M1138.3 335.8L1131.8 342.8L1126.7 349.2L1122.9 355.6L1119.7 362.0L1117.4 367.8" fill="none" stroke="#fff" stroke-width="2.0" stroke-linecap="round"/>
<path d="M1147.2 335.8L1140.8 342.8L1135.7 349.2L1131.2 355.6L1127.6 362.0L1124.8 368.4L1123.0 372.9" fill="none" stroke="#fff" stroke-width="1.8" stroke-linecap="round"/>
<path class="wd" d="M1216.2 92.1h0.8M1216.0 96.7h1.6M1215.8 101.3h0.8M1215.4 105.9h1.4M1199.0 174.8h1.6M1199.2 179.4h1.1M1199.2 184.0h1.3M1198.9 193.2h1.1M1199.2 197.8h1.0M1197.4 216.1h1.6M1197.0 220.7h1.5M1196.4 225.3h1.0M1196.4 229.9h0.9M1195.3 234.5h1.6M1194.9 239.1h2.0M1193.9 243.7h2.0M1193.3 252.9h2.0M1192.0 262.1h1.9M1194.5 312.4h0.8M1194.4 317.6h0.7M1188.6 275.9h1.8M1188.1 280.4h1.2M1187.8 284.8h1.9M1187.8 289.1h1.9M1187.9 294.7h1.7M1188.1 299.0h0.6M1187.4 303.6h0.6M1191.7 307.9h1.4M1188.6 316.9h0.6M1188.5 322.1h0.7M1186.3 326.2h0.7M1191.5 326.8h1.5M1193.5 322.2h1.1M1183.9 316.9h0.9M1183.1 322.1h0.7M1192.8 276.2h1.1M1191.6 280.6h2.0M1191.7 284.8h1.6M1190.0 312.7h1.4M1196.1 285.5h1.0M1195.0 289.5h1.7M1194.6 294.3h1.3M1157.5 293.8h1.6M1157.8 299.0h1.6M1158.6 280.9h1.4M1158.4 284.8h1.5M1157.8 289.8h2.0M1201.0 97.1h1.5M1203.9 91.9h0.7M1212.9 92.1h0.6M1212.4 97.0h0.6M1224.5 92.1h0.6M1224.5 96.3h0.8M1165.2 385.9h0.6M1163.8 390.7h1.4M1162.6 395.0h1.2M1168.7 339.9h1.2M1167.8 345.1h0.9M1165.9 349.0h1.3M1165.1 353.7h0.6M1163.2 358.3h1.1M1157.9 349.7h1.6M1157.5 354.2h0.6M1140.5 349.8h1.4M1139.1 354.4h1.0M1137.9 358.6h1.6M1137.0 363.1h1.4M1135.8 367.5h1.0M1134.7 372.0h0.6M1178.1 344.9h1.6M1177.2 349.3h1.2M1175.4 354.0h1.4M1174.4 358.9h0.6M1173.0 363.2h1.2M1133.1 399.4h0.6M1131.6 404.8h1.5M1130.8 408.8h1.1M1129.8 414.1h0.6M1128.9 418.6h0.7M1127.3 423.2h0.6M1127.6 404.0h0.6M1125.8 409.3h1.5M1124.3 413.3h0.6M1137.9 377.3h1.8M1137.0 381.4h1.6M1135.9 386.6h2.0M1134.9 390.7h1.6M1145.3 413.6h1.0M1144.0 418.5h1.5M1142.7 422.7h1.5M1140.8 427.1h1.7M1139.4 431.6h1.3M1138.8 436.7h0.6M1109.2 423.0h0.8M1112.1 413.8h0.6M1110.9 418.5h1.1M1163.3 345.1h1.9M1146.1 436.2h2.0M1120.4 409.1h0.9M1119.1 413.7h1.3M1117.3 418.7h1.5M1147.4 367.9h1.4M1145.7 372.8h1.5M1144.5 376.8h0.7M1143.2 381.5h0.7M1142.2 386.0h0.7M1155.7 377.4h1.2M1154.0 381.7h1.3M1151.9 385.7h1.9M1150.7 391.1h1.1M1149.5 395.3h1.0M1148.0 400.2h1.1M1169.7 390.7h0.7M1167.9 395.2h1.4M1166.8 399.7h0.9M1165.8 404.3h1.1M1164.4 409.2h1.0M1115.6 390.3h0.6M1114.3 394.9h0.9M1112.7 400.4h1.5M1159.5 423.3h0.6M1158.6 428.0h0.6M1111.9 390.7h0.6M1127.4 381.8h1.2M1125.9 386.0h1.5M1153.6 372.6h0.9M1152.2 376.7h1.0M1159.7 436.4h1.6M1143.5 395.8h0.6M1141.1 399.4h2.0M1139.7 405.0h1.3M1138.4 409.1h1.1M1137.2 414.1h1.4M1172.3 345.2h1.8M1171.1 349.0h1.3M1169.1 353.7h1.9M1177.4 390.5h0.8M1175.6 395.0h0.9M1173.5 400.1h1.8M1172.8 404.8h0.7M1171.3 409.4h1.5M1169.5 414.0h1.4M1122.9 394.9h0.6M1120.9 399.7h1.4M1119.7 404.5h0.8M1149.4 358.5h1.4M1148.3 362.9h0.6M1135.0 395.0h0.7M1172.9 423.1h1.9M1171.9 427.4h0.6M1169.6 431.6h1.6M1168.1 437.0h0.9M1172.4 340.5h0.8M1164.6 381.1h0.7M1121.8 432.1h1.5M1120.4 436.5h1.6M1155.3 423.2h1.4M1154.0 427.5h0.8M1152.3 432.0h0.6M1151.2 437.1h1.0M1156.2 414.2h1.7M1154.7 418.3h1.9M1115.4 408.8h0.8M1177.6 418.1h0.6M1165.4 363.4h1.7M1164.2 368.1h1.6M1156.9 368.0h1.4M1115.7 422.5h0.6M1113.8 427.7h1.2M1112.3 432.5h1.9M1111.2 436.9h1.2M1125.7 399.7h1.5M1131.1 427.0h1.0M1128.8 432.5h1.9M1127.1 436.8h1.6M1155.2 345.0h0.7M1152.8 349.7h1.8M1151.4 353.6h0.9M1119.7 376.9h1.2M1118.5 381.7h1.5M1117.4 386.5h1.6M1111.9 404.9h1.3M1111.0 409.0h1.0M1130.8 376.6h0.9M1162.6 413.4h1.7M1161.7 417.8h1.1M1161.1 400.3h2.0M1159.8 404.5h1.3M1132.6 386.5h1.0M1131.2 390.7h2.0M1130.6 395.8h0.6M1175.9 386.6h0.6M1173.5 391.2h1.6M1139.5 395.1h1.3M1119.5 372.4h1.3M1164.2 432.5h1.8M1177.4 404.6h0.6M1175.5 409.5h0.6M1173.2 413.8h1.8M1172.1 418.4h1.5M1176.8 372.6h0.8M1175.7 376.7h1.1M1174.4 381.4h1.6M1140.3 340.3h1.0M1138.7 344.8h1.4M1126.1 376.8h0.6M1158.1 363.0h0.8M1156.8 390.9h1.1M1154.8 395.5h1.9M1153.3 399.5h1.5M1152.1 404.9h1.5M1160.5 340.0h0.9M1158.9 344.7h1.6M1137.3 349.1h0.7M1146.0 344.6h1.9M1145.7 349.3h0.6M1143.8 353.6h0.7M1142.2 358.1h1.0M1216.1 354.4h0.7M1215.8 358.5h0.6M1214.8 363.3h0.6M1214.2 367.9h1.1M1216.3 372.0h1.8M1216.3 376.8h0.6M1215.9 381.8h0.8M1188.6 381.6h0.7M1188.2 386.6h1.0M1187.0 391.0h1.7M1221.6 349.7h1.0M1220.8 353.8h0.6M1219.8 358.5h1.3M1219.7 362.7h0.7M1219.2 367.8h1.3M1185.0 395.8h0.6M1184.0 400.1h0.6M1183.7 404.2h1.1M1200.2 372.0h0.6M1198.9 376.8h1.7M1198.7 381.9h1.6M1199.1 385.8h0.6M1198.0 390.8h0.9M1198.3 395.3h0.7M1197.2 399.9h1.2M1197.2 409.3h0.8M1196.4 413.7h0.6M1195.2 418.4h1.1M1204.6 386.1h0.6M1203.9 390.6h0.6M1203.0 395.6h0.6M1202.0 400.0h1.1M1201.2 404.5h1.7M1199.1 367.3h1.6M1187.5 363.1h1.4M1187.4 367.9h0.6M1186.5 372.5h1.3M1186.2 376.6h0.6M1149.3 454.9h2.0M1148.8 459.6h1.1M1111.9 450.1h0.8M1111.0 455.2h0.7M1110.0 459.2h1.3M1122.5 446.2h2.0M1122.2 450.4h1.4M1121.8 455.2h1.8M1121.3 459.2h1.9M1121.0 464.2h1.8M1135.9 478.1h1.2M1135.6 483.1h1.2M1115.0 459.4h1.1M1115.0 464.5h0.7M1126.9 450.7h1.1M1125.7 454.9h1.7M1125.4 460.0h1.0M1139.3 473.7h1.0M1145.4 468.7h1.3M1159.3 450.6h1.3M1132.0 459.3h1.6M1131.1 464.7h1.7M1130.8 468.7h1.1M1130.2 473.2h0.8M1126.0 468.7h0.6M1125.1 473.2h1.5M1114.1 454.6h1.4M1138.7 446.2h1.0M1137.6 450.1h1.0M1136.7 454.7h0.6M1127.5 464.3h1.9M1109.7 468.5h1.6M1162.2 445.4h1.4M1126.8 478.1h1.4M1148.0 445.6h1.0M1147.5 450.3h1.2M1133.0 455.2h0.9M1140.8 459.9h0.7M1139.8 464.5h1.0M1138.6 469.0h1.7M1134.3 473.4h2.0M1131.5 482.2h1.5M1141.7 478.4h0.9M1145.2 454.7h1.3M1144.2 459.8h1.3M1144.0 464.1h1.0M1158.6 446.1h0.8M1154.3 450.6h1.7M1154.2 455.1h1.6M1208.3 340.2h1.8M1208.2 349.4h1.4M1208.0 354.0h2.2M1207.1 367.7h2.1M1207.1 372.3h1.7M1207.2 381.5h1.2M1207.0 390.7h1.1"/>
<path class="d" d="M1229.5 89.8h0m0 4.6h0m0 4.6h0m0 4.6h0m0 4.6h0m0 4.6h0m0 4.5h0m0 4.6h0m-.1 4.6h0m0 4.6h0m0 4.6h0m0 4.6h0m0 4.6h0m0 4.6h0m0 4.6h0m0 4.6h0m-51.1-78.1h0m-2.1 4.6h0m0 4.6h0m0 4.6h0m-.1 4.6h0m0 4.6h0m0 4.6h0m0 4.6h0m-.1 4.5h0m0 4.6h0m0 4.6h0m0 4.6h0m0 4.6h0m-.1 4.6h0m0 4.6h0m-.3 4.6h0m-.6 4.6h0m-.5 4.6h0m-.6 4.6h0m-.4 4.6h0m-.1 4.6h0m-.1 4.6h0m-.2 4.6h0m0 4.6h0m.4 4.6h0m.3 4.6h0m.4 4.6h0m-.6 4.5h0m-.6 4.6h0m-.6 4.6h0m-.6 4.6h0m-.6 4.6h0m-.6 4.6h0m-.7 4.6h0m-.6 4.6h0m-.9 4.6h0m-1.2 4.6h0m-1.1 4.6h0m-.3 4.6h0m-.2 4.6h0m-.1 4.6h0m-.1 4.6h0m-.4 4.6h0m-.9 4.6h0m-.8 4.6h0m-.8 4.5h0m-1.1 4.6h0m-1.4 4.6h0m-1.4 4.6h0m-1.7 4.6h0m-1.9 4.6h0m-1.8 4.6h0m-1.2 4.6h0m-1.2 4.6h0m-1.2 4.6h0m106.9-247.2h0m1.6 4.6h0m.4 4.6h0m.3 4.6h0m.4 4.6h0m.3 4.6h0m.2 4.6h0m.2 4.6h0m.2 4.6h0m.1 4.6h0m.2 4.6h0m.2 4.6h0m0 4.5h0m-.3 4.6h0m-.2 4.6h0m-.3 4.6h0m-.3 4.6h0m-.5 4.6h0m-.5 4.6h0m-.5 4.6h0m-.5 4.6h0m-.5 4.6h0m-1 4.6h0m-1.2 4.6h0m-1.2 4.6h0m-1.8 4.6h0m-1.4 4.6h0m-.3 4.6h0m-.2 4.6h0m-.1 4.6h0m-.1 4.5h0m-.1 4.6h0m-.1 4.6h0m-.1 4.6h0m-.1 4.6h0m-.1 4.6h0m-.3 4.6h0m-.7 4.6h0m-.8 4.6h0m-1.1 4.6h0m-1.1 4.6h0m-.5 4.6h0m-.5 4.6h0m-.3 4.6h0m-.1 4.6h0m-.1 4.6h0m-.1 4.6h0m-.1 4.6h0m-.1 4.5h0m-.1 4.6h0m-.1 4.6h0m-.1 4.6h0m-.1 4.6h0m-.1 4.6h0m-.1 4.6h0m-115 156.7h0m0 4.6h0m0 4.6h0m0 4.6h0m0 4.6h0m.1 4.6h0m.2 4.6h0m.1 4.5h0m.1 4.6h0m.1 4.6h0m.1 4.6h0m0 4.6h0m0 4.6h0m0 4.6h0m0 4.6h0m0 4.6h0m-.2 4.6h0m-.2 4.6h0m-.2 4.6h0m.1 4.6h0m.1 4.6h0m.1 4.6h0m.1 4.6h0m.1 4.6h0m.2 4.6h0m.2 4.5h0m.2 4.6h0m.2 4.6h0m.2 4.6h0m.2 4.6h0m.2 4.6h0m.2 4.6h0m.1 4.6h0m.1 4.6h0m0 4.6h0m0 4.6h0m.1 4.6h0m0 4.6h0m0 4.6h0m.1 4.6h0m0 4.6h0m0 4.6h0m.1 4.6h0m0 4.5h0m0 4.6h0m.1 4.6h0m19.2-226.5h0m-1.4 4.6h0m-1.5 4.6h0m-1.5 4.6h0m-1.8 4.6h0m-1.8 4.6h0m-1.1 4.6h0m-.6 4.6h0m-.7 4.6h0m-.6 4.6h0m-.6 4.6h0m-.6 4.6h0m-.5 4.6h0m-.5 4.6h0m-.5 4.5h0m-.5 4.6h0m-.5 4.6h0m-.4 4.6h0m-.4 4.6h0m-.4 4.6h0m-.3 4.6h0m-.4 4.6h0m-.4 4.6h0m-.3 4.6h0m-.3 4.6h0m-.3 4.6h0m-.3 4.6h0m-.2 4.6h0m-.3 4.6h0m-.1 4.6h0m-.1 4.6h0m-.1 4.6h0m-.1 4.5h0m-.1 4.6h0m0 4.6h0m-.1 4.6h0m-.1 4.6h0m-.1 4.6h0m-.1 4.6h0m0 4.6h0m-.1 4.6h0m-.1 4.6h0m-.1 4.6h0m-.1 4.6h0m0 4.6h0m-.1 4.6h0m-.1 4.6h0m-.1 4.6h0m0 4.6h0m-.1 4.6h0m-.1 4.5h0m75.3-296.8h0m-2 4.6h0m-3.6 4.6h0m-1.5 4.6h0m-1.2 4.6h0m-1 4.6h0m-.9 4.6h0m-.9 4.6h0m-1.4 4.6h0m-47.2-97.4h0m-2.6 4.6h0m-2.7 4.6h0m-3.8 4.6h0m-4.1 4.6h0m-4.7 4.6h0m-4.8 4.6h0m-3.4 4.6h0m-3.5 4.6h0m-1.6 4.6h0m-1.5 4.5h0m-1.5 4.6h0m-.9 4.6h0m-.8 4.6h0m-.8 4.6h0m-.8 4.6h0m-.6 4.6h0m-.7 4.6h0m-.6 4.6h0m-.6 4.6h0m-.5 4.6h0m-.4 4.6h0m-.5 4.6h0m0 4.6h0m0 4.6h0m0 4.6h0m0 4.6h0m0 4.6h0m0 4.5h0m0 4.6h0m0 4.6h0m1 4.4h0m3 3.5h0m3 2.5h0m3.5 1.6h0m3.5-1.1h0m2.5-3.5h0m1-4.5h0m111.6-145.8h0m.1 4.6h0m.1 4.6h0m.1 4.6h0m.1 4.6h0m.1 4.6h0m0 4.6h0m-7.1-25.3h0m-.1 4.6h0m0 4.6h0m0 4.6h0m0 4.6h0m-.1 4.6h0m0 4.6h0m17.5-33.5h0m-.2 4.6h0m-.2 4.6h0m-.8 4.6h0m-1.5 4.6h0m-1.7 4.5h0m-1.3 4.6h0m-.9 4.6h0m-10.1-69.8h0m-.5 4.6h0m-.3 4.6h0m0 4.6h0m.1 4.6h0m0 4.6h0m0 4.6h0m.1 4.6h0m0 4.6h0m3.1-39.1h0m.7 4.6h0m.7 4.6h0m.3 4.6h0m.3 4.6h0m.3 4.6h0m.3 4.6h0m.3 4.6h0m.3 4.6h0m.3 4.6h0m.8 36.3h0m-20.9 20.6h0m0 4.6h0m0 4.6h0m-1.3-6.9h0m-.1 4.6h0m-31.1-315.8h0m4-1h0m5 1h0m6-1.5h0m6 1h0m7-.5h0m7 1h0m6-2.5h0m3.5 3h0m11.5-1h0m4-.5h0m5-.5h0m5-.6h0m4.5-1.4h0m3 2h0m-80.7 340.3h0m-.4 4.6h0m-.4 4.6h0m-.4 4.6h0m-.3 4.6h0m-.4 4.6h0m-.4 4.6h0m-8-218.3h0m-3.5 4.6h0m-2.2 4.6h0m-1.1 4.6h0m-.7 4.6h0m-.8 4.6h0m-.7 4.6h0m-.7 4.6h0m-.7 4.6h0m-.3 4.6h0m-.1 4.6h0m-.3 4.6h0m-.9 4.6h0m-1.6 4.5h0m-1.4 4.6h0m-1.2 4.6h0m-.9 4.6h0m-1.2 4.6h0m-2.5 4.6h0m-4 4.6h0m-3.8 4.6h0m-3.4 4.6h0m-4.1 4.6h0m-4.3 4.6h0m-4.2 4.6h0m-3.9 4.6h0m-3.6 4.6h0m-1.8 4.6h0m-1.2 4.6h0m-.9 4.6h0m-1.2 4.5h0m-1.2 4.6h0m55.6-117.1h0m-.9 4.6h0m-1 4.6h0m-.8 4.6h0m-.8 4.6h0m-.4 4.6h0m-1.2 4.6h0m-1.4 4.5h0m-.9 4.6h0m-1.5 4.6h0m-1.5 4.6h0m-1.3 4.6h0m-1.4 4.6h0m-2.4 4.6h0m-3.7 4.6h0m-2.3 4.6h0m-1.5 4.6h0m-3.7 4.6h0m-4.2 4.6h0m-3 4.6h0m-2.9 4.6h0m-2.7 4.6h0m-3 4.6h0m-3.6 4.6h0m-1.5 4.6h0m-1.4 4.5h0m-1.2 4.6h0m37.8-51.6h0m-2.8 4.5h0m-2.9 4.6h0m-2.9 4.6h0m-3 4.6h0m-3.1 4.6h0m-4.4 4.6h0m-3.5 4.6h0m-3.1 4.6h0m-2.7 4.6h0m-1.8 4.6h0m-1.8 4.6h0m-10.5 122.9h0m-2.3 4.6h0m-1.5 4.6h0m-1.5 4.6h0m-1.5 4.6h0m-1.5 4.6h0m-1.3 4.6h0m-1.1 4.6h0m-1 4.5h0m-1.3 4.6h0m-1.1 4.6h0m-1.1 4.6h0m-.9 4.6h0m-.8 4.6h0m-1 4.6h0m-1.1 4.6h0m-.9 4.6h0m-.7 4.6h0m-.3 4.6h0m-.3 4.6h0m-.3 4.6h0m-.4 4.6h0m-.3 4.6h0m-.3 4.6h0m-.3 4.6h0m-.3 4.6h0m-.3 4.5h0m-.3 4.6h0m-.3 4.6h0m-.4 4.6h0m-.3 4.6h0m-.3 4.6h0m-.3 4.6h0m-.3 4.6h0m-.2 4.6h0m-.1 4.6h0m-.1 4.6h0m-.1 4.6h0m0 4.6h0m-.1 4.6h0m0 4.6h0m-.1 4.6h0m0 4.6h0m-.1 4.6h0m0 4.5h0m-.1 4.6h0m0 4.6h0m-.1 4.6h0m-.1 4.6h0m-.1 4.6h0m-.1 4.6h0m0 4.6h0m-.1 4.6h0m0 4.6h0m-.3 4.6h0m-.2 4.6h0m-.3 4.6h0m-.2 4.6h0m-.1 4.6h0m-.1 4.6h0m-.1 4.6h0m-.1 4.6h0m0 4.5h0m-.2 4.6h0m-.1 4.6h0m-.1 4.6h0m-.2 4.6h0m-.2 4.6h0m-.1 4.6h0m-.3 4.6h0m-.3 4.6h0m-.3 4.6h0m-.4 4.6h0m-.4 4.6h0m-.2 4.6h0m-.3 4.6h0m-.2 4.6h0m-.4 4.6h0m-.4 4.6h0m-.4 4.6h0m-.2 4.5h0m-.1 4.6h0m-.2 4.6h0m-.1 4.6h0m.2 4.6h0m.3 4.6h0m.5 4.6h0m.4 4.6h0m.1 4.6h0m36.8-402h0m-.7 4.6h0m-.9 4.6h0m-.9 4.6h0m-.9 4.6h0m-.9 4.6h0m-.9 4.6h0m-.8 4.6h0m-.4 4.5h0m-.4 4.6h0m-.6 4.6h0m-.4 4.6h0m-.5 4.6h0m-.5 4.6h0m-.6 4.6h0m-.3 4.6h0m-.9 4.6h0m-.7 4.6h0m-.4 4.6h0m-.5 4.6h0m-.5 4.6h0m-.7 4.6h0m-.7 4.6h0m-.6 4.6h0m-.5 4.6h0m-.6 4.6h0m-.6 4.5h0m-.5 4.6h0m-.6 4.6h0m-.6 4.6h0m-.5 4.6h0m-.6 4.6h0m-.8 4.6h0m-.7 4.6h0m-.6 4.6h0m-.5 4.6h0m-.4 4.6h0m-.3 4.6h0m-.3 4.6h0m-.3 4.6h0m-.2 4.6h0m-.2 4.6h0m-.2 4.6h0m-.2 4.6h0m-.2 4.5h0m-.1 4.6h0m-.2 4.6h0m-.2 4.6h0m-.2 4.6h0m-.2 4.6h0m-.2 4.6h0m-.3 4.6h0m-.3 4.6h0m-.4 4.6h0m-.3 4.6h0m-.3 4.6h0m-.4 4.6h0m-.5 4.6h0m-.5 4.6h0m-.4 4.6h0m-.3 4.6h0m-.4 4.6h0m-.3 4.5h0m-.4 4.6h0m-.2 4.6h0m-.2 4.6h0m-.2 4.6h0m-.2 4.6h0m-.2 4.6h0m-.2 4.6h0m-.3 4.6h0m-.3 4.6h0m-.2 4.6h0m-.2 4.6h0m-.2 4.6h0m-.2 4.6h0m-.2 4.6h0m-.2 4.6h0m-.2 4.6h0m-.2 4.6h0m-.2 4.5h0m-.3 4.6h0m-.3 4.6h0m-.3 4.6h0m-.5 4.6h0m-.6 4.6h0m-.4 4.6h0m-.4 4.6h0m45.9-328.5h0m-1.4 4.6h0m-.9 4.6h0m-1 4.6h0m-1.2 4.6h0m-1.1 4.6h0m-1.2 4.6h0m-1.1 4.6h0m-1.1 4.6h0m-1 4.6h0m-1.9 4.5h0m-2.1 4.6h0m-2.6 4.6h0m-1.4 4.6h0m-1.2 4.6h0m-.9 4.6h0m-.3 4.6h0m-.4 4.6h0m-.5 4.6h0m-.4 4.6h0m-.4 4.6h0m-.3 4.6h0m-.2 4.6h0m-.2 4.6h0m-.1 4.6h0m-.2 4.6h0m-.3 4.6h0m-.4 4.6h0m-.3 4.5h0m-.3 4.6h0m-.3 4.6h0m-.3 4.6h0m-.2 4.6h0m-.3 4.6h0m-.3 4.6h0m-.3 4.6h0m-.4 4.6h0m-.5 4.6h0m-.3 4.6h0m-.2 4.6h0m-.2 4.6h0m-.4 4.6h0m-.3 4.6h0m-.6 4.6h0m-.6 4.6h0m-.6 4.6h0m-.6 4.5h0m-.4 4.6h0m-.4 4.6h0m-.3 4.6h0m-.2 4.6h0m0 4.6h0m0 4.6h0m.1 4.6h0m.3 4.6h0m.4 4.6h0m.3 4.6h0m32.3-241.2h0m-.6 4.6h0m-.6 4.6h0m-.6 4.6h0m-.8 4.6h0m-.8 4.6h0m-1.2 4.6h0m-1 4.5h0m-1.1 4.6h0m-.6 4.6h0m-.6 4.6h0m-.7 4.6h0m-.4 4.6h0m-.5 4.6h0m-.4 4.6h0m-.5 4.6h0m-.6 4.6h0m-.5 4.6h0m-.5 4.6h0m-.7 4.6h0m-.6 4.6h0m-.6 4.6h0m-.8 4.6h0m-.7 4.6h0m-.7 4.6h0m-.5 4.5h0m-.5 4.6h0m-.5 4.6h0m-.5 4.6h0m-.4 4.6h0m-.3 4.6h0m-.3 4.6h0m-.4 4.6h0m-.4 4.6h0m-.7 4.6h0m-.7 4.6h0m-.5 4.6h0m-.4 4.6h0m-.3 4.6h0m-.4 4.6h0m-.8 4.6h0m-.6 4.6h0m-.6 4.6h0m-.5 4.5h0m-.5 4.6h0m-.8 4.6h0m-.7 4.6h0m-.7 4.6h0m-.5 4.6h0m-.4 4.6h0m-.5 4.6h0m-.6 4.6h0m-.7 4.6h0m-.6 4.6h0m-.6 4.6h0m34-212.7h0m-.5 4.6h0m-.4 4.6h0m-.9 4.5h0m-1.5 4.6h0m-1.2 4.6h0m-1.1 4.6h0m-.8 4.6h0m-.7 4.6h0m-.6 4.6h0m-.5 4.6h0m-.3 4.6h0m-.3 4.6h0m-.2 4.6h0m-.1 4.6h0m-.3 4.6h0m-.2 4.6h0m-.1 4.6h0m0 4.6h0m-.2 4.6h0m-.2 4.6h0m0 4.5h0m0 4.6h0m-.2 4.6h0m-.1 4.6h0m.2 4.6h0m-5.2-115.8h0m-.6 4.6h0m-.4 4.6h0m-.5 4.6h0m-.5 4.6h0m-.4 4.6h0m-.2 4.6h0m-.3 4.6h0m-.1 4.6h0m-.2 4.6h0m-.1 4.6h0m-.2 4.6h0m-.1 4.6h0m-.2 4.6h0m-.2 4.6h0m-.2 4.6h0m0 4.6h0m0 4.5h0m0 4.6h0m0 4.6h0m0 4.6h0m0 4.6h0m0 4.6h0m0 4.6h0m0 4.6h0m0 4.6h0m.1 4.6h0m.2 4.6h0m0 4.6h0m-.1 4.6h0m0 4.6h0m0 4.6h0m0 4.6h0m-.2 4.6h0m-.1 4.6h0m-.2 4.5h0m32.5-214.5h0m.5 4.6h0m.6 4.6h0m.5 4.6h0m-.3 4.6h0m-.3 4.6h0m-.3 4.6h0m-.3 4.6h0m-.3 4.5h0m-.7 4.6h0m-1.3 4.6h0m-1.9 4.6h0m.2-48.2h0m.3 4.6h0m.4 4.6h0m-.1 4.6h0m-.4 4.6h0m-.5 4.6h0m-.6 4.6h0m-.7 4.5h0m28.5-150.7h0m-.5 4.6h0m-.5 4.6h0m-.9 4.6h0m-.8 4.6h0m-.8 4.6h0m-1.8 4.6h0m-.3 4.6h0m.3 4.6h0m.4 4.6h0m.1 4.6h0m-.6 4.6h0m-.7 4.6h0m-.8 4.6h0m-1.3 4.6h0m-.8 4.6h0m-.7 4.6h0m-1.1 4.6h0m-1.6 4.5h0m-1.7 4.6h0m8.9-75.8h0m-2 4.6h0m-.9 4.6h0m-2.4 4.6h0m-2 4.6h0m-1.1 4.6h0m2.7 4.6h0m-.8 4.6h0m-1 4.6h0m-1.1 4.6h0m-2.7 4.6h0m-.2 4.6h0m-.4 4.6h0m-.8 4.6h0m-.5 4.6h0m-.6 4.6h0m-1.4 4.5h0m-.3 4.6h0m.6 4.6h0m.9 4.6h0m-.7 4.6h0m-.9 4.6h0m-.9 4.6h0m-.4 4.6h0m13-102.2h0m-1.9 4.6h0m-1.8 4.6h0m-1.8 4.6h0m-1.6 4.6h0m-.6 4.6h0m1.4 4.5h0m-.6 4.6h0m-1.4 4.6h0m-1.8 4.6h0m-.7 4.6h0m-.6 4.6h0m-.4 4.6h0m-.3 4.6h0m-.3 4.6h0m-.4 4.6h0m-.4 4.6h0m-.4 4.6h0m-.3 4.6h0m-.2 4.6h0m-.2 4.6h0m-.1 4.6h0m10.8-89.9h0m-1.8 4.6h0m-1.9 4.6h0m-1.7 4.6h0m-1 4.6h0m-.7 4.6h0m-.4 4.6h0m-.4 4.6h0m-.5 4.6h0m-.5 4.6h0m-.4 4.6h0m28.3-67.6h0m-1.1 4.6h0m-.1 4.6h0m24.5-16.7h0m-3.2 5.8h0m-3.2 6.4h0m-2-10.9h0m.7 9.6h0m-60.2 108.8h0m-.6 5.2h0m65.4-119h0m-3.8 3.8h0m.6 3.2h0m-9.6-42.8h0"/>
<text x="1040.8" y="84.4" textLength="12.3" lengthAdjust="spacingAndGlyphs" class="t">0</text>
<text x="1028.5" y="176.3" textLength="24.6" lengthAdjust="spacingAndGlyphs" class="t">20</text>
<text x="1028.5" y="268.2" textLength="24.6" lengthAdjust="spacingAndGlyphs" class="t">40</text>
<text x="1028.5" y="360.1" textLength="24.6" lengthAdjust="spacingAndGlyphs" class="t">60</text>
<text x="1028.5" y="452.0" textLength="24.6" lengthAdjust="spacingAndGlyphs" class="t">80</text>
<text x="1016.2" y="543.8" textLength="36.9" lengthAdjust="spacingAndGlyphs" class="t">100</text>
<text x="1016.2" y="635.7" textLength="36.9" lengthAdjust="spacingAndGlyphs" class="t">120</text>
<text x="1016.2" y="727.6" textLength="36.9" lengthAdjust="spacingAndGlyphs" class="t">140</text>
<text x="1016.2" y="819.5" textLength="36.9" lengthAdjust="spacingAndGlyphs" class="t">160</text>
<text x="1016.2" y="911.4" textLength="36.9" lengthAdjust="spacingAndGlyphs" class="t">180</text>
<text x="1041.6" y="930.3" textLength="36.9" lengthAdjust="spacingAndGlyphs" class="t">200</text>
<text x="1165.8" y="930.3" textLength="36.9" lengthAdjust="spacingAndGlyphs" class="t">300</text>
<text transform="translate(1004.5 546.6) rotate(-90)" textLength="115.5" lengthAdjust="spacingAndGlyphs" class="b">Depth, m</text>
<text x="1114.8" y="958.0" textLength="93.0" lengthAdjust="spacingAndGlyphs" class="b">Oxygen</text>
<text x="523.6" y="67.4" textLength="114.5" lengthAdjust="spacingAndGlyphs" class="b">sbu01-14</text>
</svg>
</body></html>
